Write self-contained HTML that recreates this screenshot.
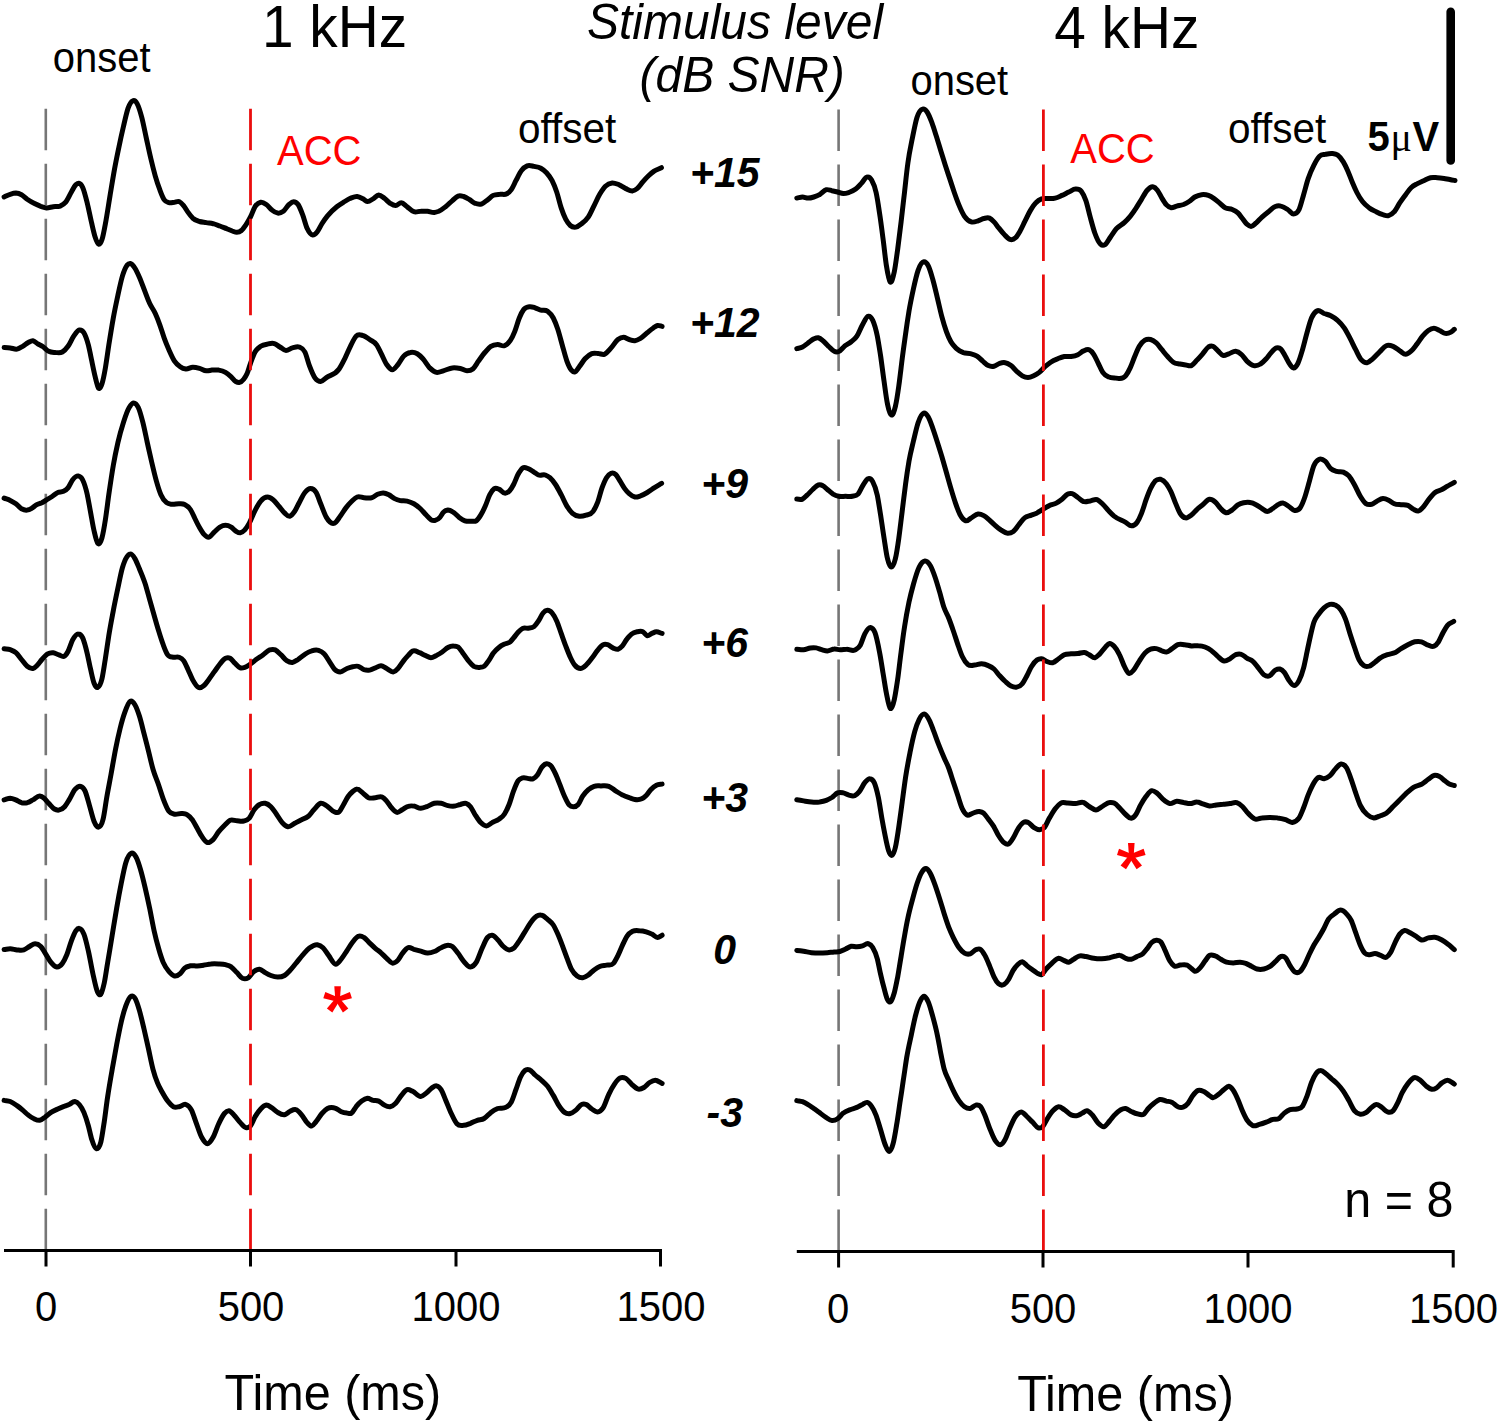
<!DOCTYPE html>
<html><head><meta charset="utf-8"><style>
html,body{margin:0;padding:0;background:#fff;width:1500px;height:1424px;overflow:hidden}
svg{display:block}
text{font-family:"Liberation Sans",sans-serif;fill:#000}
.w{fill:none;stroke:#000;stroke-width:5.0;stroke-linejoin:round;stroke-linecap:round}
.g line{stroke:#767676;stroke-width:2.6;stroke-dasharray:41.5 13.5}
.r line{stroke:#ea0e0e;stroke-width:2.8;stroke-dasharray:41.5 13.5}
.ax{stroke:#000;stroke-width:3;fill:none}
</style></head><body>
<svg width="1500" height="1424" viewBox="0 0 1500 1424">
<g class="g"><line x1="45.8" y1="108.8" x2="45.8" y2="1250"/><line x1="838.6" y1="109.5" x2="838.6" y2="1251"/></g>
<path class="w" d="M4.1,197.0 C6.1,196.1 8.2,194.9 10.2,194.3 C12.1,193.7 14.0,193.1 15.9,193.1 C17.8,193.2 19.6,193.7 21.5,194.7 C23.4,195.7 25.3,197.9 27.2,199.3 C29.5,200.9 31.7,202.2 34.0,203.3 C36.3,204.5 38.5,205.5 40.8,206.3 C42.7,206.9 44.6,207.7 46.5,207.9 C48.7,208.0 51.0,207.0 53.3,206.7 C55.5,206.4 57.8,207.0 60.1,206.1 C62.0,205.3 63.8,204.5 65.7,202.2 C67.6,199.9 69.5,195.2 71.4,192.0 C72.9,189.4 74.4,186.1 75.9,184.7 C77.1,183.7 78.2,182.9 79.3,183.4 C80.5,183.8 81.6,185.0 82.7,187.5 C84.2,190.8 85.8,197.3 87.3,203.3 C88.8,209.4 90.3,217.4 91.8,223.7 C92.9,228.5 94.1,233.9 95.2,237.3 C96.3,240.7 97.5,243.8 98.6,244.1 C99.7,244.5 100.9,243.0 102.0,239.6 C103.1,236.2 104.3,229.7 105.4,223.7 C106.9,215.8 108.4,205.6 109.9,196.5 C111.4,187.5 113.0,177.6 114.5,169.3 C116.0,161.0 117.5,153.8 119.0,146.7 C120.5,139.5 122.0,132.7 123.5,126.3 C125.0,119.8 126.6,112.4 128.1,108.1 C129.6,103.9 131.1,101.6 132.6,100.9 C134.1,100.1 135.6,100.9 137.1,103.6 C138.6,106.3 140.2,111.5 141.7,117.2 C143.2,122.9 144.7,130.8 146.2,137.6 C147.7,144.4 149.2,151.6 150.7,158.0 C152.2,164.4 153.8,170.8 155.3,176.1 C156.8,181.4 158.3,185.8 159.8,189.7 C161.3,193.7 162.8,197.8 164.3,199.9 C165.8,202.1 167.4,202.2 168.9,202.7 C170.8,203.2 172.6,202.4 174.5,202.2 C176.0,202.0 177.6,201.0 179.1,201.5 C180.6,202.1 182.1,203.8 183.6,205.6 C185.1,207.4 186.6,210.3 188.1,212.4 C189.6,214.5 191.2,216.6 192.7,218.1 C194.9,220.2 197.2,220.7 199.5,221.5 C201.7,222.2 204.0,222.2 206.3,222.6 C208.5,223.0 210.8,223.2 213.1,223.7 C215.3,224.3 217.6,225.2 219.9,226.0 C222.1,226.8 224.4,227.8 226.7,228.7 C228.6,229.5 230.4,230.3 232.3,231.0 C233.8,231.5 235.4,232.4 236.9,232.3 C238.4,232.3 239.9,231.8 241.4,230.5 C242.9,229.3 244.4,227.1 245.9,224.9 C247.4,222.6 249.0,220.0 250.5,216.9 C252.0,213.9 253.5,209.2 255.0,206.7 C256.9,203.7 258.8,202.6 260.7,202.2 C262.6,201.8 264.4,203.1 266.3,204.5 C268.2,205.8 270.1,208.7 272.0,210.1 C273.9,211.6 275.8,212.9 277.7,213.1 C279.6,213.3 281.4,212.7 283.3,211.3 C285.2,209.8 287.1,206.1 289.0,204.5 C290.5,203.2 292.0,201.7 293.5,201.7 C295.0,201.7 296.6,202.3 298.1,204.5 C299.6,206.6 301.1,210.7 302.6,214.7 C304.1,218.6 305.6,224.9 307.1,228.3 C309.0,232.4 310.9,234.8 312.8,235.1 C314.3,235.2 315.8,233.6 317.3,231.7 C318.8,229.8 320.4,226.1 321.9,223.7 C323.8,220.7 325.6,218.1 327.5,215.8 C330.6,212.0 333.7,209.2 336.8,206.7 C339.1,204.9 341.3,203.6 343.6,202.2 C345.9,200.8 348.1,199.3 350.4,198.3 C352.7,197.4 354.9,196.3 357.2,196.5 C359.1,196.7 361.0,197.8 362.9,198.8 C364.4,199.6 365.9,201.3 367.4,201.5 C369.3,201.7 371.2,199.9 373.1,198.8 C375.0,197.7 376.8,195.0 378.7,194.9 C380.6,194.9 382.5,196.9 384.4,198.3 C386.3,199.7 388.2,202.1 390.1,203.3 C392.0,204.5 393.8,205.7 395.7,205.6 C397.6,205.5 399.5,202.5 401.4,202.7 C403.3,202.8 405.2,205.4 407.1,206.7 C409.3,208.4 411.6,211.0 413.9,211.7 C416.1,212.5 418.4,211.3 420.7,211.3 C422.9,211.2 425.2,211.1 427.5,211.3 C429.7,211.5 432.0,212.6 434.3,212.4 C435.8,212.3 437.3,211.9 438.8,211.3 C441.1,210.3 443.3,208.5 445.6,206.7 C447.9,205.0 450.1,202.5 452.4,200.6 C454.3,199.0 456.2,196.8 458.1,196.1 C460.0,195.4 461.8,196.0 463.7,196.5 C465.6,197.1 467.5,198.3 469.4,199.5 C471.3,200.6 473.2,202.6 475.1,203.3 C477.3,204.2 479.6,204.6 481.9,203.8 C483.8,203.1 485.6,201.3 487.5,199.9 C489.4,198.5 491.3,196.4 493.2,195.4 C495.5,194.2 497.7,194.5 500.0,194.3 C502.3,194.0 504.5,195.1 506.8,193.8 C508.3,193.0 509.8,191.9 511.3,189.7 C512.8,187.5 514.4,183.6 515.9,180.7 C517.8,177.1 519.6,172.9 521.5,170.5 C523.4,168.0 525.3,166.7 527.2,165.9 C529.5,165.0 531.7,166.0 534.0,166.4 C536.3,166.8 538.5,166.9 540.8,168.2 C542.7,169.3 544.6,170.7 546.5,172.7 C548.4,174.8 550.2,176.9 552.1,180.7 C553.6,183.7 555.2,187.5 556.7,192.0 C558.2,196.5 559.7,203.3 561.2,207.9 C562.7,212.4 564.2,216.3 565.7,219.2 C567.2,222.1 568.8,224.2 570.3,225.5 C572.2,227.2 574.0,227.4 575.9,227.1 C577.8,226.8 579.7,225.2 581.6,223.7 C583.9,222.0 586.1,220.4 588.4,216.9 C590.3,214.0 592.2,209.4 594.1,205.6 C596.0,201.8 597.8,197.5 599.7,194.3 C601.6,191.1 603.5,188.2 605.4,186.3 C607.7,184.1 609.9,183.2 612.2,182.9 C614.5,182.7 616.7,183.8 619.0,184.7 C621.3,185.7 623.5,187.6 625.8,188.6 C628.1,189.6 630.3,191.2 632.6,190.9 C634.1,190.6 635.6,189.8 637.1,188.6 C639.0,187.1 640.9,184.0 642.8,181.8 C644.7,179.6 646.6,177.5 648.5,175.7 C650.4,173.9 652.2,172.4 654.1,171.1 C656.5,169.6 659.0,168.9 661.4,167.7"/>
<path class="w" d="M4.1,347.5 C6.1,347.6 8.2,347.7 10.2,347.9 C12.5,348.2 14.7,349.5 17.0,349.1 C18.9,348.7 20.8,347.4 22.7,346.3 C24.6,345.2 26.4,343.5 28.3,342.5 C29.8,341.7 31.4,340.5 32.9,340.7 C34.4,340.9 35.9,342.7 37.4,343.6 C39.3,344.8 41.2,345.5 43.1,346.8 C45.0,348.1 46.8,350.4 48.7,351.3 C51.0,352.5 53.3,352.3 55.5,352.5 C57.8,352.6 60.1,353.3 62.3,352.0 C64.2,350.9 66.1,349.0 68.0,346.3 C69.9,343.7 71.8,338.9 73.7,336.1 C75.6,333.4 77.4,330.3 79.3,330.0 C80.8,329.8 82.4,330.2 83.9,332.7 C85.4,335.3 86.9,339.4 88.4,345.2 C89.5,349.6 90.7,355.8 91.8,361.1 C92.9,366.4 94.1,372.4 95.2,376.9 C96.3,381.5 97.5,387.1 98.6,388.3 C99.7,389.4 100.9,387.1 102.0,383.7 C103.1,380.3 104.3,374.3 105.4,367.9 C106.5,361.4 107.7,352.4 108.8,345.2 C110.3,335.6 111.8,326.3 113.3,318.0 C114.8,309.7 116.4,302.3 117.9,295.3 C119.4,288.3 120.9,281.1 122.4,276.1 C123.9,271.1 125.4,267.4 126.9,265.4 C128.1,263.9 129.2,263.5 130.3,263.6 C131.8,263.8 133.4,265.9 134.9,268.1 C136.4,270.4 137.9,273.8 139.4,277.2 C141.3,281.5 143.2,287.1 145.1,291.9 C146.6,295.8 148.1,300.0 149.6,303.3 C151.5,307.4 153.4,309.3 155.3,313.5 C156.8,316.8 158.3,320.6 159.8,324.8 C161.3,329.0 162.8,334.2 164.3,338.4 C165.8,342.6 167.4,346.3 168.9,349.7 C170.8,354.0 172.6,358.2 174.5,361.1 C176.4,363.9 178.3,365.4 180.2,366.7 C182.1,368.1 184.0,368.8 185.9,369.0 C188.1,369.2 190.4,367.3 192.7,367.2 C194.9,367.1 197.2,367.7 199.5,368.3 C201.7,368.9 204.0,370.6 206.3,370.8 C208.2,371.0 210.0,370.3 211.9,370.1 C214.2,370.0 216.5,369.8 218.7,370.1 C221.0,370.5 223.3,371.1 225.5,372.4 C227.4,373.5 229.3,375.2 231.2,376.9 C232.7,378.3 234.2,380.5 235.7,381.5 C236.9,382.2 238.0,382.7 239.1,382.6 C240.6,382.4 242.2,381.1 243.7,379.2 C244.8,377.8 245.9,376.2 247.1,373.5 C248.2,370.9 249.3,366.5 250.5,363.3 C252.0,359.1 253.5,354.8 255.0,352.0 C256.9,348.5 258.8,347.6 260.7,346.3 C262.9,344.8 265.2,344.5 267.5,344.1 C269.7,343.6 272.0,342.9 274.3,343.6 C276.2,344.2 278.0,345.9 279.9,347.0 C281.8,348.1 283.7,350.1 285.6,350.4 C287.9,350.8 290.1,348.5 292.4,347.9 C294.7,347.4 296.9,346.1 299.2,347.0 C301.1,347.8 303.0,348.1 304.9,352.0 C306.4,355.1 307.9,361.6 309.4,365.6 C311.3,370.6 313.2,375.4 315.1,378.1 C317.0,380.7 318.8,381.5 320.7,381.5 C322.6,381.4 324.5,378.9 326.4,377.6 C330.6,374.7 334.8,375.1 339.1,369.0 C341.0,366.3 342.8,362.6 344.7,358.8 C346.6,355.0 348.5,350.1 350.4,346.3 C352.3,342.6 354.2,338.1 356.1,336.1 C358.3,333.8 360.6,334.9 362.9,335.5 C365.1,336.0 367.4,338.0 369.7,339.5 C371.9,341.1 374.2,341.5 376.5,344.7 C378.0,346.9 379.5,350.2 381.0,353.1 C382.9,356.8 384.8,361.7 386.7,364.5 C388.6,367.2 390.4,369.7 392.3,369.7 C394.2,369.7 396.1,366.7 398.0,364.5 C399.9,362.2 401.8,358.1 403.7,356.1 C405.9,353.7 408.2,352.8 410.5,352.5 C412.7,352.1 415.0,352.5 417.3,353.8 C419.2,354.9 421.0,356.7 422.9,358.8 C425.2,361.3 427.5,365.6 429.7,367.9 C432.0,370.1 434.3,371.9 436.5,372.4 C438.8,372.9 441.1,371.4 443.3,370.8 C446.4,370.0 449.4,368.2 452.4,367.9 C455.0,367.6 457.7,368.0 460.3,368.5 C462.6,369.0 464.9,370.9 467.1,370.8 C469.0,370.8 470.9,370.6 472.8,369.0 C474.7,367.4 476.6,363.7 478.5,361.1 C480.7,358.0 483.0,354.6 485.3,352.0 C487.2,349.8 489.0,347.6 490.9,346.3 C493.2,344.8 495.5,344.6 497.7,344.5 C500.0,344.4 502.3,346.6 504.5,345.7 C506.4,344.9 508.3,343.5 510.2,340.7 C511.7,338.4 513.2,335.4 514.7,331.6 C516.2,327.8 517.8,321.7 519.3,318.0 C520.8,314.3 522.3,311.3 523.8,309.4 C525.7,307.0 527.6,306.9 529.5,306.7 C531.4,306.4 533.2,307.2 535.1,307.8 C537.0,308.4 538.9,309.5 540.8,310.1 C543.1,310.7 545.3,309.5 547.6,311.2 C549.5,312.6 551.4,314.4 553.3,318.0 C554.8,320.9 556.3,324.8 557.8,329.3 C559.3,333.9 560.8,339.9 562.3,345.2 C563.8,350.5 565.4,356.9 566.9,361.1 C568.4,365.2 569.9,368.4 571.4,370.1 C572.5,371.4 573.7,372.2 574.8,371.9 C576.3,371.7 577.8,368.6 579.3,366.7 C581.2,364.4 583.1,360.9 585.0,358.8 C587.3,356.3 589.5,354.5 591.8,353.6 C594.1,352.7 596.3,353.4 598.6,353.6 C600.5,353.7 602.4,354.9 604.3,354.3 C606.5,353.5 608.8,350.4 611.1,347.9 C613.3,345.5 615.6,341.3 617.9,339.5 C619.8,338.1 621.6,337.3 623.5,337.3 C625.4,337.3 627.3,339.0 629.2,339.5 C631.1,340.1 633.0,340.9 634.9,340.7 C636.8,340.5 638.6,339.5 640.5,338.4 C642.8,337.0 645.1,334.6 647.3,332.7 C649.2,331.2 651.1,329.5 653.0,328.2 C654.5,327.2 656.0,325.8 657.5,325.5 C659.0,325.2 660.6,326.1 662.1,326.4"/>
<path class="w" d="M4.1,498.1 C6.1,498.9 8.2,499.4 10.2,500.4 C12.1,501.3 14.0,502.4 15.9,503.8 C17.8,505.2 19.6,507.7 21.5,508.8 C23.4,509.8 25.3,510.4 27.2,510.1 C28.7,510.0 30.2,509.2 31.7,508.3 C33.2,507.5 34.8,505.8 36.3,504.9 C38.2,503.8 40.0,503.6 41.9,502.7 C43.4,501.9 45.0,500.9 46.5,499.9 C48.4,498.8 50.2,497.8 52.1,496.5 C54.0,495.3 55.9,493.3 57.8,492.5 C59.7,491.6 61.6,492.3 63.5,491.3 C65.0,490.6 66.5,489.8 68.0,487.9 C69.5,486.0 71.0,482.0 72.5,480.0 C74.4,477.6 76.3,475.6 78.2,475.9 C79.7,476.2 81.2,476.9 82.7,480.0 C84.2,483.1 85.8,488.0 87.3,494.7 C88.4,499.8 89.5,506.8 90.7,512.9 C91.8,518.9 92.9,526.1 94.1,531.0 C95.4,536.6 96.6,542.2 97.9,543.5 C99.3,544.8 100.6,542.6 102.0,537.8 C103.1,533.8 104.3,526.8 105.4,519.7 C106.5,512.5 107.7,502.6 108.8,494.7 C110.3,484.2 111.8,474.0 113.3,465.3 C114.8,456.6 116.4,449.2 117.9,442.6 C119.8,434.3 121.6,428.1 123.5,422.2 C125.4,416.3 127.3,410.7 129.2,407.5 C130.7,404.9 132.2,402.9 133.7,402.9 C135.2,402.9 136.8,404.3 138.3,407.5 C139.8,410.7 141.3,416.3 142.8,422.2 C144.3,428.1 145.8,435.8 147.3,442.6 C148.8,449.4 150.4,456.6 151.9,463.0 C153.4,469.4 154.9,475.8 156.4,481.1 C157.9,486.4 159.4,491.3 160.9,494.7 C162.8,499.1 164.7,501.1 166.6,502.7 C168.5,504.3 170.4,504.0 172.3,504.3 C174.5,504.5 176.8,503.7 179.1,503.8 C181.0,503.9 182.8,503.5 184.7,504.5 C186.6,505.4 188.5,506.6 190.4,509.5 C191.9,511.7 193.4,515.5 194.9,518.5 C196.4,521.6 198.0,525.0 199.5,527.6 C201.0,530.2 202.5,532.8 204.0,534.4 C205.5,536.0 207.0,537.4 208.5,537.3 C210.4,537.3 212.3,533.8 214.2,532.1 C216.1,530.4 218.0,528.3 219.9,527.1 C221.8,526.0 223.6,525.3 225.5,525.3 C227.4,525.3 229.3,526.0 231.2,527.1 C232.7,528.1 234.2,530.1 235.7,531.0 C237.2,531.9 238.8,533.0 240.3,532.8 C241.8,532.6 243.3,531.5 244.8,529.9 C246.3,528.2 247.8,525.8 249.3,523.1 C251.2,519.6 253.1,514.3 255.0,510.6 C256.9,506.9 258.8,503.3 260.7,501.1 C262.9,498.4 265.2,497.0 267.5,497.0 C269.4,497.0 271.2,498.2 273.1,499.7 C275.0,501.2 276.9,503.9 278.8,506.1 C280.7,508.3 282.6,511.1 284.5,512.9 C286.2,514.5 287.9,516.6 289.7,516.3 C291.3,515.9 293.0,513.7 294.7,511.3 C296.2,509.1 297.7,505.5 299.2,502.7 C301.1,499.2 303.0,494.8 304.9,492.5 C306.8,490.1 308.6,488.4 310.5,488.4 C312.4,488.4 314.3,489.2 316.2,492.5 C317.7,495.0 319.2,500.1 320.7,503.8 C322.6,508.4 324.5,514.2 326.4,517.4 C329.1,522.0 331.8,524.2 334.5,523.1 C336.4,522.3 338.3,518.8 340.2,516.3 C342.1,513.7 344.0,510.3 345.9,507.9 C347.8,505.4 349.6,503.3 351.5,501.5 C353.4,499.7 355.3,497.7 357.2,497.0 C359.5,496.1 361.7,497.6 364.0,497.7 C366.6,497.8 369.3,498.6 371.9,497.7 C373.8,497.0 375.7,495.1 377.6,494.3 C379.5,493.5 381.4,492.8 383.3,492.9 C385.2,493.0 387.0,493.8 388.9,494.7 C390.8,495.7 392.7,497.6 394.6,498.6 C396.5,499.6 398.4,500.2 400.3,500.6 C402.5,501.1 404.8,500.6 407.1,501.1 C409.3,501.6 411.6,502.5 413.9,503.8 C416.1,505.1 418.4,506.9 420.7,509.0 C422.6,510.8 424.4,513.2 426.3,515.1 C427.8,516.7 429.4,518.8 430.9,519.7 C432.4,520.5 433.9,520.7 435.4,520.3 C436.9,520.0 438.4,519.1 439.9,517.4 C441.1,516.1 442.2,513.6 443.3,512.4 C444.8,510.8 446.4,510.3 447.9,510.1 C449.8,510.0 451.6,511.2 453.5,512.4 C455.4,513.6 457.3,516.0 459.2,517.4 C461.1,518.8 463.0,520.1 464.9,520.8 C467.1,521.6 469.4,521.3 471.7,521.3 C473.2,521.2 474.7,521.8 476.2,520.8 C477.7,519.8 479.2,517.6 480.7,515.1 C482.2,512.7 483.8,509.5 485.3,506.1 C486.8,502.7 488.3,497.6 489.8,494.7 C491.3,491.8 492.8,489.6 494.3,488.6 C495.8,487.7 497.4,488.5 498.9,489.1 C500.8,489.8 502.6,493.0 504.5,493.1 C506.0,493.3 507.6,492.8 509.1,491.3 C510.6,489.9 512.1,487.4 513.6,484.5 C515.1,481.7 516.6,477.1 518.1,474.3 C519.6,471.6 521.2,469.1 522.7,468.0 C524.6,466.6 526.4,468.0 528.3,468.7 C530.2,469.3 532.1,470.9 534.0,472.1 C535.5,473.0 537.0,474.4 538.5,475.0 C540.8,475.9 543.1,474.2 545.3,475.0 C546.8,475.6 548.4,476.4 549.9,477.7 C551.8,479.4 553.6,481.7 555.5,484.5 C557.4,487.4 559.3,491.1 561.2,494.7 C563.1,498.3 565.0,503.0 566.9,506.1 C568.8,509.2 570.6,511.6 572.5,513.3 C574.8,515.3 577.1,516.0 579.3,516.3 C581.6,516.6 583.9,515.9 586.1,515.1 C588.4,514.4 590.7,514.9 592.9,511.7 C594.4,509.6 596.0,506.6 597.5,502.7 C599.0,498.7 600.5,492.1 602.0,487.9 C603.5,483.8 605.0,480.2 606.5,477.7 C608.0,475.3 609.6,473.8 611.1,473.2 C612.6,472.6 614.1,473.0 615.6,474.3 C617.1,475.7 618.6,478.8 620.1,481.1 C621.6,483.5 623.2,486.5 624.7,488.6 C626.2,490.7 627.7,492.3 629.2,493.6 C631.1,495.3 633.0,496.6 634.9,497.0 C636.8,497.4 638.6,496.5 640.5,495.9 C642.8,495.1 645.1,493.8 647.3,492.5 C649.6,491.1 651.9,489.4 654.1,487.9 C656.6,486.3 659.1,484.9 661.6,483.4"/>
<path class="w" d="M4.1,648.8 C6.1,649.1 8.2,649.0 10.2,649.7 C12.1,650.4 14.0,651.0 15.9,652.7 C17.8,654.3 19.6,657.2 21.5,659.5 C23.4,661.7 25.3,664.8 27.2,666.3 C29.1,667.8 31.0,669.0 32.9,668.5 C34.4,668.2 35.9,666.6 37.4,665.1 C38.9,663.6 40.4,661.2 41.9,659.5 C43.8,657.3 45.7,654.9 47.6,653.8 C49.5,652.7 51.4,652.5 53.3,652.7 C55.2,652.9 57.0,654.4 58.9,654.9 C60.8,655.5 62.7,657.5 64.6,656.1 C65.7,655.2 66.9,653.6 68.0,651.5 C69.5,648.8 71.0,643.1 72.5,640.2 C74.4,636.6 76.3,633.8 78.2,633.9 C79.7,633.9 81.2,634.6 82.7,637.9 C84.2,641.3 85.8,647.5 87.3,653.8 C88.4,658.5 89.5,664.8 90.7,669.7 C91.8,674.6 92.9,680.3 94.1,683.3 C95.4,686.6 96.6,688.0 97.9,687.3 C99.3,686.7 100.6,684.5 102.0,678.7 C103.1,673.9 104.3,665.5 105.4,658.3 C106.5,651.2 107.7,642.7 108.8,635.7 C110.3,626.3 111.8,618.7 113.3,610.7 C114.8,602.8 116.4,595.2 117.9,588.1 C119.4,580.9 120.9,572.9 122.4,567.7 C123.9,562.5 125.4,559.0 126.9,556.8 C128.1,555.1 129.2,554.1 130.3,554.1 C131.8,554.0 133.4,556.1 134.9,558.6 C136.4,561.1 137.9,565.2 139.4,568.8 C141.3,573.3 143.2,577.7 145.1,583.5 C146.6,588.2 148.1,594.1 149.6,599.4 C151.1,604.7 152.6,610.0 154.1,615.3 C155.6,620.6 157.2,626.2 158.7,631.1 C160.2,636.0 161.7,640.8 163.2,644.7 C164.7,648.7 166.2,652.8 167.7,654.9 C169.6,657.6 171.5,656.8 173.4,657.2 C175.3,657.6 177.2,656.4 179.1,657.2 C180.6,657.8 182.1,658.5 183.6,660.6 C185.1,662.7 186.6,666.5 188.1,669.7 C189.6,672.9 191.2,677.1 192.7,679.9 C194.6,683.3 196.4,686.4 198.3,687.3 C200.2,688.3 202.1,687.1 204.0,685.5 C205.5,684.3 207.0,681.9 208.5,679.9 C210.4,677.4 212.3,674.6 214.2,671.9 C216.1,669.3 218.0,666.3 219.9,664.0 C221.8,661.7 223.6,659.2 225.5,658.3 C227.0,657.7 228.6,657.6 230.1,658.3 C231.6,659.1 233.1,661.4 234.6,662.9 C236.5,664.7 238.4,667.2 240.3,667.9 C241.8,668.4 243.3,667.9 244.8,667.4 C246.7,666.8 248.6,665.3 250.5,664.0 C252.4,662.7 254.2,660.9 256.1,659.5 C258.4,657.8 260.7,656.5 262.9,654.9 C265.2,653.3 267.5,650.7 269.7,649.9 C271.6,649.3 273.5,649.1 275.4,649.9 C277.3,650.8 279.2,653.2 281.1,654.9 C283.0,656.7 284.8,659.4 286.7,660.6 C288.6,661.8 290.5,662.6 292.4,662.4 C294.3,662.2 296.2,660.7 298.1,659.5 C300.3,658.0 302.6,655.7 304.9,654.3 C307.1,652.8 309.4,651.5 311.7,650.9 C313.9,650.2 316.2,649.7 318.5,650.4 C320.4,651.0 322.2,651.8 324.1,653.8 C326.1,655.8 328.0,659.4 329.9,662.3 C331.4,664.6 333.0,667.6 334.5,669.2 C336.4,671.2 338.3,671.9 340.2,671.9 C342.5,672.0 344.7,669.4 347.0,668.5 C348.9,667.8 350.8,667.1 352.7,666.7 C354.6,666.3 356.4,665.8 358.3,666.3 C360.2,666.8 362.1,669.0 364.0,669.7 C365.9,670.3 367.8,670.4 369.7,670.1 C371.6,669.8 373.4,668.6 375.3,667.9 C377.2,667.1 379.1,665.7 381.0,665.8 C382.9,665.9 384.8,667.6 386.7,668.5 C388.9,669.6 391.2,672.5 393.5,671.9 C395.0,671.6 396.5,670.1 398.0,668.5 C399.9,666.6 401.8,663.0 403.7,660.6 C405.2,658.7 406.7,657.0 408.2,655.4 C409.7,653.8 411.2,651.8 412.7,651.1 C415.0,650.0 417.3,651.8 419.5,652.7 C421.4,653.4 423.3,654.6 425.2,655.4 C427.1,656.2 429.0,657.7 430.9,657.7 C432.8,657.7 434.6,656.3 436.5,655.4 C438.4,654.4 440.3,653.3 442.2,652.0 C444.1,650.7 446.0,648.5 447.9,647.5 C449.8,646.4 451.6,645.8 453.5,645.9 C455.0,645.9 456.6,645.9 458.1,647.0 C459.6,648.1 461.1,650.7 462.6,652.7 C464.5,655.2 466.4,658.3 468.3,660.6 C470.2,662.9 472.0,665.1 473.9,666.3 C475.8,667.4 477.7,667.5 479.6,667.4 C481.1,667.3 482.6,667.4 484.1,666.3 C485.6,665.1 487.2,662.8 488.7,660.6 C490.2,658.4 491.7,655.4 493.2,653.3 C495.1,650.8 497.0,649.0 498.9,647.5 C500.8,645.9 502.6,645.0 504.5,644.1 C506.4,643.1 508.3,643.4 510.2,641.8 C511.3,640.8 512.5,639.3 513.6,637.9 C515.1,636.1 516.6,633.9 518.1,632.3 C519.6,630.7 521.2,629.2 522.7,628.4 C524.6,627.5 526.4,628.5 528.3,628.2 C530.2,627.9 532.1,628.1 534.0,626.6 C535.5,625.4 537.0,623.2 538.5,620.9 C540.0,618.7 541.6,614.8 543.1,613.0 C544.4,611.4 545.8,610.4 547.1,610.3 C548.8,610.1 550.5,611.0 552.1,613.0 C553.6,614.8 555.2,617.5 556.7,620.9 C558.2,624.3 559.7,629.2 561.2,633.4 C562.7,637.6 564.2,641.9 565.7,645.9 C567.2,649.8 568.8,654.0 570.3,657.2 C571.8,660.4 573.3,663.3 574.8,665.1 C576.7,667.5 578.6,668.5 580.5,668.5 C582.4,668.5 584.2,666.8 586.1,665.1 C588.0,663.4 589.9,660.8 591.8,658.3 C593.7,655.9 595.6,652.7 597.5,650.4 C599.4,648.1 601.2,645.6 603.1,644.7 C604.6,644.1 606.2,644.3 607.7,644.7 C609.6,645.2 611.4,647.4 613.3,648.1 C614.8,648.7 616.4,649.6 617.9,649.3 C619.4,648.9 620.9,647.6 622.4,645.9 C623.9,644.2 625.4,641.0 626.9,639.1 C628.4,637.1 630.0,635.3 631.5,634.1 C633.4,632.6 635.2,632.2 637.1,631.8 C639.0,631.4 640.9,630.9 642.8,631.8 C644.3,632.5 645.8,635.4 647.3,635.7 C648.8,635.9 650.4,634.0 651.9,633.4 C653.4,632.8 654.9,631.9 656.4,631.8 C658.3,631.7 660.2,632.9 662.1,633.4"/>
<path class="w" d="M4.1,799.9 C6.1,799.4 8.2,798.3 10.2,798.3 C12.1,798.4 14.0,799.2 15.9,799.9 C17.8,800.7 19.6,802.2 21.5,802.7 C23.4,803.1 25.3,803.1 27.2,802.7 C29.1,802.2 31.0,800.9 32.9,799.9 C35.1,798.8 37.4,795.9 39.7,796.1 C41.2,796.2 42.7,797.1 44.2,798.3 C45.7,799.6 47.2,801.7 48.7,803.3 C50.6,805.3 52.5,807.9 54.4,809.0 C55.9,809.9 57.4,810.3 58.9,810.1 C60.8,809.9 62.7,808.8 64.6,806.7 C66.1,805.1 67.6,802.4 69.1,799.9 C71.0,796.8 72.9,792.0 74.8,789.7 C76.7,787.5 78.6,785.8 80.5,786.3 C82.0,786.8 83.5,787.7 85.0,790.9 C86.5,794.1 88.0,800.5 89.5,805.6 C91.0,810.7 92.6,817.9 94.1,821.5 C95.6,825.1 97.1,827.5 98.6,827.1 C100.1,826.8 101.6,825.5 103.1,819.2 C104.3,814.5 105.4,805.4 106.5,798.8 C108.0,790.1 109.6,782.2 111.1,773.9 C112.6,765.6 114.1,756.5 115.6,748.9 C117.1,741.4 118.6,734.6 120.1,728.5 C121.6,722.5 123.2,716.9 124.7,712.7 C126.6,707.3 128.4,702.2 130.3,701.3 C131.8,700.6 133.4,702.3 134.9,704.7 C136.4,707.2 137.9,711.3 139.4,716.1 C140.9,720.8 142.4,727.2 143.9,733.1 C145.4,738.9 147.0,745.2 148.5,751.2 C150.0,757.2 151.5,764.1 153.0,769.3 C154.9,775.9 156.8,779.7 158.7,785.2 C160.2,789.6 161.7,794.8 163.2,798.8 C165.1,803.8 167.0,808.7 168.9,811.3 C170.8,813.8 172.6,813.8 174.5,814.2 C176.8,814.8 179.1,813.4 181.3,813.5 C183.2,813.7 185.1,813.5 187.0,814.7 C188.9,815.8 190.8,817.7 192.7,820.3 C194.2,822.5 195.7,825.6 197.2,828.3 C198.7,830.9 200.2,834.0 201.7,836.2 C203.6,839.0 205.5,842.0 207.4,842.5 C209.3,843.1 211.2,841.4 213.1,839.6 C215.0,837.8 216.8,834.0 218.7,831.7 C220.6,829.3 222.5,827.4 224.4,825.5 C226.3,823.7 228.2,821.2 230.1,820.3 C232.3,819.3 234.6,820.7 236.9,820.8 C239.1,820.9 241.4,821.6 243.7,821.0 C245.6,820.5 247.4,820.3 249.3,818.1 C250.8,816.2 252.4,812.3 253.9,810.1 C255.8,807.5 257.6,805.6 259.5,804.5 C261.4,803.3 263.3,803.0 265.2,803.3 C267.1,803.7 269.0,804.9 270.9,806.7 C272.8,808.5 274.6,811.6 276.5,814.2 C278.4,816.9 280.3,820.5 282.2,822.6 C284.1,824.7 286.0,826.4 287.9,826.7 C290.1,827.1 292.4,824.5 294.7,823.3 C296.9,822.1 299.2,820.8 301.5,819.7 C303.7,818.5 306.0,818.2 308.3,816.3 C310.2,814.6 312.0,811.7 313.9,809.7 C316.2,807.3 318.5,803.8 320.7,803.3 C322.6,802.9 324.5,804.5 326.4,805.6 C329.1,807.1 331.8,811.2 334.5,811.9 C336.0,812.4 337.6,813.2 339.1,811.9 C340.6,810.7 342.1,807.0 343.6,804.5 C345.1,801.9 346.6,798.7 348.1,796.5 C349.6,794.4 351.2,792.8 352.7,791.5 C354.2,790.3 355.7,789.0 357.2,789.1 C359.1,789.1 361.0,791.7 362.9,793.1 C364.8,794.6 366.6,796.8 368.5,797.7 C370.8,798.7 373.1,797.8 375.3,797.7 C377.6,797.6 379.9,795.9 382.1,797.0 C383.6,797.7 385.2,799.3 386.7,801.1 C388.2,802.8 389.7,805.6 391.2,807.4 C393.1,809.6 395.0,812.1 396.9,812.4 C398.8,812.7 400.6,810.5 402.5,809.5 C404.4,808.4 406.3,806.8 408.2,806.3 C410.1,805.7 412.0,805.8 413.9,806.1 C416.1,806.3 418.4,808.3 420.7,808.3 C422.9,808.4 425.2,807.1 427.5,806.3 C429.7,805.4 432.0,803.8 434.3,803.3 C436.5,802.8 438.8,803.0 441.1,803.3 C443.3,803.7 445.6,805.1 447.9,805.6 C450.1,806.1 452.4,806.3 454.7,806.1 C456.6,805.8 458.4,804.9 460.3,804.5 C462.2,804.0 464.1,802.7 466.0,803.3 C467.5,803.8 469.0,804.8 470.5,806.7 C472.0,808.6 473.6,812.3 475.1,814.7 C477.0,817.7 478.8,820.7 480.7,822.6 C482.6,824.5 484.5,826.0 486.4,826.0 C488.3,826.0 490.2,823.6 492.1,822.6 C494.3,821.3 496.6,820.9 498.9,819.2 C500.8,817.8 502.6,817.0 504.5,814.0 C506.0,811.6 507.6,808.3 509.1,804.5 C510.6,800.6 512.1,794.8 513.6,790.9 C515.1,786.9 516.6,782.8 518.1,780.7 C519.6,778.5 521.2,778.4 522.7,777.9 C524.6,777.4 526.4,778.2 528.3,778.4 C529.8,778.5 531.4,779.4 532.9,778.9 C534.4,778.3 535.9,777.0 537.4,775.0 C538.9,773.0 540.4,769.0 541.9,767.1 C543.4,765.2 545.0,763.9 546.5,763.7 C548.0,763.5 549.5,764.2 551.0,765.9 C552.5,767.6 554.0,770.7 555.5,773.9 C557.0,777.1 558.6,781.4 560.1,785.2 C561.6,789.0 563.1,793.2 564.6,796.5 C566.1,799.8 567.6,803.2 569.1,804.9 C570.6,806.6 572.2,806.8 573.7,806.7 C575.2,806.7 576.7,806.2 578.2,804.5 C579.7,802.7 581.2,798.4 582.7,796.1 C584.6,793.2 586.5,791.4 588.4,789.7 C590.3,788.1 592.2,787.0 594.1,786.3 C596.3,785.5 598.6,785.9 600.9,785.9 C603.5,785.9 606.2,785.3 608.8,786.3 C611.1,787.2 613.3,789.4 615.6,790.9 C617.9,792.3 620.1,793.8 622.4,794.9 C624.7,796.1 626.9,796.9 629.2,797.7 C631.1,798.3 633.0,799.2 634.9,799.5 C637.1,799.8 639.4,799.9 641.7,798.8 C643.2,798.1 644.7,796.9 646.2,795.4 C647.7,793.9 649.2,791.3 650.7,789.7 C652.6,787.7 654.5,786.1 656.4,785.2 C658.3,784.3 660.2,784.4 662.1,784.1"/>
<path class="w" d="M4.1,949.5 C6.1,949.3 8.2,948.8 10.2,948.8 C12.5,948.8 14.7,949.7 17.0,949.9 C19.3,950.1 21.5,950.7 23.8,949.9 C25.7,949.3 27.6,947.6 29.5,946.5 C31.4,945.5 33.2,943.8 35.1,943.8 C37.0,943.8 38.9,944.6 40.8,946.5 C42.3,948.1 43.8,951.0 45.3,953.3 C47.2,956.2 49.1,960.1 51.0,962.4 C52.9,964.7 54.8,966.7 56.7,966.9 C58.6,967.1 60.4,966.1 62.3,963.5 C63.8,961.5 65.4,958.2 66.9,954.5 C68.4,950.7 69.9,944.8 71.4,940.9 C72.9,936.9 74.4,932.7 75.9,930.7 C77.1,929.1 78.2,928.2 79.3,928.4 C80.8,928.6 82.4,930.3 83.9,934.1 C85.4,937.8 86.9,944.5 88.4,951.1 C89.9,957.7 91.4,966.9 92.9,973.7 C94.4,980.5 96.0,988.7 97.5,991.9 C98.6,994.2 99.7,995.6 100.9,994.1 C102.0,992.6 103.1,988.1 104.3,982.8 C105.4,977.5 106.5,969.2 107.7,962.4 C109.2,953.3 110.7,944.3 112.2,935.2 C113.7,926.1 115.2,916.7 116.7,908.0 C118.2,899.3 119.8,890.6 121.3,883.1 C122.8,875.5 124.3,867.6 125.8,862.7 C127.7,856.5 129.6,853.7 131.5,853.1 C133.0,852.7 134.5,854.3 136.0,857.0 C137.5,859.7 139.0,864.4 140.5,869.5 C142.0,874.6 143.6,881.2 145.1,887.6 C146.6,894.0 148.1,900.8 149.6,908.0 C151.1,915.2 152.6,923.9 154.1,930.7 C155.6,937.5 157.2,943.5 158.7,948.8 C160.2,954.1 161.7,958.8 163.2,962.4 C165.1,966.9 167.0,969.2 168.9,971.5 C170.8,973.7 172.6,975.6 174.5,976.0 C176.4,976.4 178.3,975.4 180.2,973.7 C181.7,972.4 183.2,969.4 184.7,968.1 C186.6,966.4 188.5,966.2 190.4,965.8 C192.7,965.3 194.9,966.1 197.2,966.0 C199.5,965.9 201.7,965.5 204.0,965.1 C206.3,964.8 208.5,964.2 210.8,964.0 C213.4,963.7 216.1,963.8 218.7,964.0 C221.0,964.1 223.3,964.1 225.5,964.7 C227.4,965.2 229.3,965.6 231.2,966.9 C233.1,968.3 235.0,970.7 236.9,972.6 C238.8,974.5 240.6,977.4 242.5,978.3 C244.4,979.1 246.3,978.9 248.2,977.8 C250.1,976.7 252.0,972.9 253.9,971.5 C255.8,970.0 257.6,969.0 259.5,969.2 C261.4,969.4 263.3,971.5 265.2,972.6 C267.1,973.7 269.0,974.8 270.9,975.5 C273.1,976.4 275.4,977.1 277.7,977.1 C279.9,977.1 282.2,976.9 284.5,975.5 C286.4,974.4 288.2,972.3 290.1,970.3 C292.0,968.3 293.9,965.8 295.8,963.5 C298.1,960.8 300.3,957.7 302.6,955.1 C304.9,952.6 307.1,949.8 309.4,948.1 C312.0,946.1 314.7,944.4 317.3,944.7 C319.2,945.0 321.1,945.9 323.0,947.7 C324.9,949.5 326.8,953.1 328.7,955.6 C331.0,958.7 333.3,964.1 335.7,964.2 C337.6,964.3 339.4,961.3 341.3,959.0 C343.2,956.7 345.1,953.4 347.0,950.6 C348.9,947.8 350.8,944.4 352.7,942.0 C354.6,939.6 356.4,937.1 358.3,936.3 C360.2,935.6 362.1,936.3 364.0,937.5 C365.9,938.6 367.8,941.3 369.7,943.1 C371.6,944.9 373.4,946.7 375.3,948.3 C377.2,950.0 379.1,951.2 381.0,952.9 C382.9,954.5 384.8,956.6 386.7,958.3 C388.6,960.0 390.4,962.8 392.3,963.1 C394.2,963.4 396.1,962.1 398.0,960.1 C399.5,958.5 401.0,955.3 402.5,953.3 C404.4,950.9 406.3,948.3 408.2,947.7 C410.1,947.0 412.0,948.7 413.9,949.3 C416.1,949.9 418.4,950.5 420.7,951.1 C422.9,951.7 425.2,952.8 427.5,952.9 C429.7,953.0 432.0,952.4 434.3,951.5 C436.5,950.7 438.8,948.7 441.1,947.7 C443.0,946.8 444.8,945.6 446.7,945.4 C448.6,945.2 450.5,945.2 452.4,946.5 C454.3,947.9 456.2,950.9 458.1,953.3 C460.0,955.8 461.8,959.1 463.7,961.3 C466.0,963.9 468.3,967.1 470.5,966.9 C472.4,966.8 474.3,965.4 476.2,962.4 C478.1,959.4 480.0,953.0 481.9,948.8 C483.8,944.6 485.6,939.7 487.5,937.5 C489.0,935.7 490.6,935.1 492.1,935.2 C494.0,935.3 495.8,937.8 497.7,939.7 C499.6,941.6 501.5,944.8 503.4,946.5 C505.3,948.2 507.2,949.8 509.1,949.9 C510.6,950.0 512.1,949.5 513.6,948.3 C515.5,946.9 517.4,943.6 519.3,940.9 C521.2,938.1 523.0,934.8 524.9,931.8 C526.8,928.8 528.7,925.3 530.6,922.7 C532.5,920.2 534.4,917.6 536.3,916.4 C538.2,915.1 540.0,914.8 541.9,915.3 C543.8,915.7 545.7,917.7 547.6,919.3 C549.5,921.0 551.4,922.1 553.3,925.0 C554.8,927.3 556.3,930.7 557.8,934.1 C559.3,937.5 560.8,941.4 562.3,945.4 C563.8,949.4 565.4,953.9 566.9,957.9 C568.4,961.8 569.9,966.3 571.4,969.2 C573.3,972.8 575.2,974.6 577.1,976.0 C579.0,977.4 580.8,978.0 582.7,977.8 C584.6,977.6 586.5,976.2 588.4,974.9 C590.3,973.5 592.2,971.3 594.1,969.9 C596.0,968.5 597.8,967.3 599.7,966.5 C602.0,965.5 604.3,965.6 606.5,965.1 C608.8,964.6 611.1,966.1 613.3,963.5 C614.8,961.8 616.4,958.6 617.9,955.6 C619.4,952.6 620.9,948.6 622.4,945.4 C623.9,942.2 625.4,938.6 626.9,936.3 C628.8,933.5 630.7,932.3 632.6,931.3 C634.9,930.2 637.1,930.6 639.4,930.7 C641.7,930.7 643.9,931.1 646.2,931.8 C648.1,932.4 650.0,933.1 651.9,934.1 C653.8,935.0 655.6,937.5 657.5,937.5 C659.0,937.4 660.6,936.0 662.1,935.2"/>
<path class="w" d="M4.1,1100.4 C6.1,1100.8 8.2,1100.7 10.2,1101.5 C12.5,1102.4 14.7,1104.0 17.0,1105.6 C18.9,1106.9 20.8,1108.5 22.7,1110.1 C24.6,1111.7 26.4,1113.7 28.3,1115.1 C30.2,1116.6 32.1,1117.9 34.0,1118.7 C35.9,1119.6 37.8,1120.6 39.7,1120.3 C41.6,1120.0 43.4,1118.3 45.3,1116.9 C47.2,1115.6 49.1,1113.7 51.0,1112.4 C53.3,1110.9 55.5,1110.1 57.8,1109.0 C60.1,1107.9 62.3,1106.9 64.6,1106.1 C66.1,1105.5 67.6,1105.1 69.1,1104.5 C71.0,1103.7 72.9,1101.3 74.8,1101.5 C76.3,1101.7 77.8,1102.7 79.3,1104.5 C80.8,1106.3 82.4,1108.8 83.9,1112.4 C85.4,1116.0 86.9,1120.6 88.4,1126.0 C89.5,1130.0 90.7,1136.0 91.8,1139.6 C93.3,1144.3 94.8,1148.3 96.3,1148.7 C97.8,1149.0 99.4,1148.0 100.9,1141.9 C102.0,1137.3 103.1,1129.0 104.3,1121.5 C105.4,1113.9 106.5,1104.2 107.7,1096.5 C109.2,1086.3 110.7,1078.0 112.2,1069.3 C113.7,1060.6 115.2,1052.3 116.7,1044.4 C118.2,1036.5 119.8,1028.2 121.3,1021.7 C122.8,1015.3 124.3,1010.0 125.8,1005.9 C127.5,1001.1 129.3,997.3 131.0,996.3 C132.5,995.5 134.0,996.2 135.5,999.1 C136.8,1001.5 138.1,1006.0 139.4,1010.4 C140.9,1015.6 142.4,1022.1 143.9,1028.5 C145.4,1035.0 147.0,1042.1 148.5,1048.9 C150.0,1055.7 151.5,1063.7 153.0,1069.3 C154.5,1075.0 156.0,1079.2 157.5,1082.9 C159.0,1086.7 160.6,1089.2 162.1,1092.0 C164.0,1095.4 165.8,1098.6 167.7,1101.1 C169.6,1103.5 171.5,1105.8 173.4,1106.7 C175.3,1107.7 177.2,1107.0 179.1,1106.7 C181.3,1106.4 183.6,1103.6 185.9,1104.5 C187.8,1105.2 189.6,1106.4 191.5,1110.1 C193.0,1113.1 194.6,1118.5 196.1,1122.6 C198.0,1127.7 199.8,1133.8 201.7,1137.3 C203.6,1140.8 205.5,1143.7 207.4,1143.7 C209.3,1143.7 211.2,1140.7 213.1,1137.3 C215.0,1134.0 216.8,1127.7 218.7,1123.7 C220.6,1119.8 222.5,1115.7 224.4,1113.5 C225.9,1111.8 227.4,1110.7 228.9,1110.8 C230.8,1110.9 232.7,1113.8 234.6,1115.8 C236.5,1117.8 238.4,1120.6 240.3,1122.6 C242.2,1124.6 244.0,1127.2 245.9,1127.6 C247.4,1127.9 249.0,1127.8 250.5,1126.0 C252.0,1124.2 253.5,1119.6 255.0,1116.9 C256.9,1113.7 258.8,1111.0 260.7,1109.0 C262.6,1107.0 264.4,1105.3 266.3,1105.1 C268.2,1105.0 270.1,1106.7 272.0,1107.9 C273.9,1109.1 275.8,1111.3 277.7,1112.4 C279.9,1113.7 282.2,1115.1 284.5,1114.7 C286.4,1114.3 288.2,1112.1 290.1,1111.3 C292.0,1110.4 293.9,1109.1 295.8,1109.7 C297.7,1110.2 299.6,1112.5 301.5,1114.7 C303.4,1116.8 305.2,1120.6 307.1,1122.6 C308.6,1124.2 310.2,1126.2 311.7,1126.0 C313.2,1125.8 314.7,1123.2 316.2,1121.5 C318.1,1119.2 320.0,1115.7 321.9,1113.5 C323.8,1111.4 325.6,1109.5 327.5,1108.5 C330.2,1107.1 333.0,1107.4 335.7,1108.3 C337.6,1109.0 339.4,1110.9 341.3,1111.7 C343.2,1112.5 345.1,1112.9 347.0,1113.1 C348.5,1113.2 350.0,1114.1 351.5,1113.1 C353.0,1112.0 354.6,1108.6 356.1,1106.7 C358.0,1104.4 359.8,1102.5 361.7,1101.1 C363.6,1099.7 365.5,1098.5 367.4,1098.3 C369.3,1098.2 371.2,1099.9 373.1,1100.4 C375.0,1100.8 376.8,1100.3 378.7,1101.1 C380.6,1101.9 382.5,1104.2 384.4,1105.1 C386.3,1106.1 388.2,1107.0 390.1,1106.7 C392.0,1106.4 393.8,1105.2 395.7,1103.3 C397.6,1101.4 399.5,1097.7 401.4,1095.4 C403.3,1093.1 405.2,1090.4 407.1,1089.7 C409.0,1089.1 410.8,1090.5 412.7,1091.3 C415.4,1092.5 418.0,1096.7 420.7,1096.5 C422.6,1096.4 424.4,1094.6 426.3,1093.1 C428.2,1091.7 430.1,1089.2 432.0,1087.9 C433.5,1086.9 435.0,1085.6 436.5,1085.9 C438.0,1086.2 439.6,1087.4 441.1,1089.7 C442.6,1092.1 444.1,1096.4 445.6,1099.9 C447.5,1104.3 449.4,1109.6 451.3,1113.5 C453.2,1117.5 455.0,1121.7 456.9,1123.7 C459.2,1126.2 461.5,1125.4 463.7,1125.3 C466.0,1125.2 468.3,1124.1 470.5,1123.3 C472.8,1122.4 475.1,1121.1 477.3,1120.3 C479.6,1119.5 481.9,1119.8 484.1,1118.5 C486.4,1117.2 488.7,1114.1 490.9,1112.4 C493.2,1110.7 495.5,1109.4 497.7,1108.5 C500.4,1107.6 503.0,1109.0 505.7,1107.4 C507.6,1106.3 509.4,1105.9 511.3,1102.2 C512.8,1099.3 514.4,1093.9 515.9,1089.7 C517.4,1085.6 518.9,1080.5 520.4,1077.3 C521.9,1074.1 523.4,1071.7 524.9,1070.5 C526.4,1069.2 528.0,1069.3 529.5,1069.8 C531.4,1070.4 533.2,1073.3 535.1,1075.0 C537.4,1077.0 539.7,1078.6 541.9,1080.7 C543.8,1082.4 545.7,1083.9 547.6,1086.3 C549.5,1088.8 551.4,1092.2 553.3,1095.4 C555.2,1098.6 557.0,1102.8 558.9,1105.6 C560.8,1108.4 562.7,1111.1 564.6,1112.4 C566.5,1113.7 568.4,1113.9 570.3,1113.5 C572.2,1113.2 574.0,1111.6 575.9,1110.1 C577.8,1108.6 579.7,1105.3 581.6,1104.5 C583.1,1103.8 584.6,1103.9 586.1,1104.5 C588.0,1105.1 589.9,1107.8 591.8,1109.0 C593.7,1110.2 595.6,1112.1 597.5,1111.9 C599.4,1111.8 601.2,1110.8 603.1,1107.9 C605.0,1104.9 606.9,1098.2 608.8,1094.3 C610.7,1090.3 612.6,1086.8 614.5,1084.1 C616.4,1081.3 618.2,1078.9 620.1,1077.9 C622.0,1077.0 623.9,1077.4 625.8,1078.4 C627.7,1079.4 629.6,1082.4 631.5,1084.1 C633.7,1086.1 636.0,1088.6 638.3,1089.1 C640.2,1089.4 642.0,1088.6 643.9,1087.5 C645.8,1086.4 647.7,1083.7 649.6,1082.5 C651.5,1081.3 653.4,1080.2 655.3,1080.2 C657.5,1080.2 659.8,1082.3 662.1,1083.4"/>
<path class="w" d="M796.8,198.1 C798.7,197.8 800.6,197.0 802.5,197.0 C804.4,197.0 806.2,198.1 808.1,198.1 C810.0,198.1 811.9,197.6 813.8,197.0 C815.7,196.4 817.6,195.8 819.5,194.7 C821.7,193.5 824.0,190.3 826.3,189.7 C828.2,189.3 830.0,190.3 831.9,190.7 C833.8,191.0 835.7,191.5 837.6,192.0 C839.5,192.5 841.4,193.5 843.3,193.6 C845.2,193.7 847.0,193.1 848.9,192.5 C851.2,191.7 853.5,190.8 855.7,189.1 C857.6,187.6 859.5,185.4 861.4,183.4 C863.3,181.4 865.2,177.3 867.1,177.1 C868.6,176.8 870.1,177.4 871.6,180.0 C873.1,182.6 874.6,185.5 876.1,192.5 C877.3,197.7 878.4,205.3 879.5,212.9 C880.7,220.4 881.8,229.1 882.9,237.8 C884.1,246.5 885.2,257.8 886.3,265.0 C887.6,273.1 888.9,280.6 890.2,282.0 C891.5,283.4 892.9,278.3 894.3,271.8 C895.4,266.4 896.5,257.4 897.7,249.1 C898.8,240.8 899.9,231.4 901.1,221.9 C902.2,212.5 903.3,202.3 904.5,192.5 C905.6,182.6 906.7,171.3 907.9,163.0 C909.4,152.0 910.9,145.6 912.4,138.1 C913.9,130.5 915.4,122.5 916.9,117.7 C918.8,111.7 920.7,109.6 922.6,109.1 C924.1,108.6 925.6,109.8 927.1,112.0 C928.6,114.2 930.2,118.2 931.7,122.2 C933.2,126.2 934.7,131.1 936.2,135.8 C937.7,140.5 939.2,145.6 940.7,150.5 C942.2,155.4 943.8,160.5 945.3,165.3 C946.8,170.0 948.3,174.3 949.8,178.9 C951.3,183.4 952.8,188.1 954.3,192.5 C955.8,196.8 957.4,201.3 958.9,204.9 C960.8,209.5 962.6,213.5 964.5,216.3 C966.8,219.6 969.1,221.2 971.3,221.9 C973.6,222.7 975.9,221.5 978.1,220.8 C980.0,220.2 981.9,219.0 983.8,218.5 C985.7,218.1 987.6,217.3 989.5,218.1 C991.0,218.7 992.5,220.3 994.0,221.9 C995.5,223.5 997.0,225.7 998.5,227.6 C1000.4,229.9 1002.3,232.4 1004.2,234.4 C1006.1,236.4 1008.0,238.8 1009.9,239.4 C1011.8,240.0 1013.6,239.6 1015.5,237.8 C1017.0,236.4 1018.6,233.6 1020.1,231.0 C1021.6,228.4 1023.1,225.0 1024.6,221.9 C1026.5,218.2 1028.4,213.8 1030.3,210.6 C1032.2,207.4 1034.0,204.6 1035.9,202.7 C1037.8,200.7 1039.7,199.5 1041.6,198.8 C1043.9,197.9 1046.1,198.7 1048.4,198.6 C1050.7,198.5 1052.9,198.7 1055.2,198.1 C1057.5,197.6 1059.7,196.4 1062.0,195.4 C1064.3,194.4 1066.5,193.1 1068.8,192.0 C1071.1,191.0 1073.3,189.0 1075.6,189.1 C1077.5,189.1 1079.4,188.9 1081.3,191.3 C1082.8,193.3 1084.3,196.1 1085.8,200.4 C1087.3,204.7 1088.8,211.9 1090.3,217.4 C1091.8,222.9 1093.4,229.0 1094.9,233.3 C1096.8,238.6 1098.6,242.4 1100.5,244.1 C1102.0,245.5 1103.6,245.5 1105.1,244.6 C1107.0,243.5 1108.8,239.3 1110.7,236.7 C1112.6,234.0 1114.5,230.9 1116.4,228.7 C1119.1,225.6 1121.8,225.0 1124.5,222.4 C1126.4,220.6 1128.3,218.6 1130.2,216.3 C1132.1,213.9 1134.0,211.2 1135.9,208.3 C1137.8,205.5 1139.6,202.3 1141.5,199.3 C1143.4,196.2 1145.3,192.3 1147.2,190.2 C1149.1,188.1 1151.0,186.5 1152.9,186.8 C1154.4,187.0 1155.9,188.3 1157.4,190.2 C1158.9,192.1 1160.4,195.7 1161.9,198.1 C1163.4,200.6 1165.0,203.3 1166.5,204.9 C1168.0,206.5 1169.5,207.3 1171.0,207.7 C1172.9,208.0 1174.8,206.6 1176.7,206.1 C1178.9,205.5 1181.2,205.4 1183.5,204.5 C1185.4,203.7 1187.2,202.8 1189.1,201.5 C1191.0,200.3 1192.9,198.1 1194.8,197.0 C1197.1,195.7 1199.3,195.0 1201.6,194.7 C1203.9,194.5 1206.1,194.6 1208.4,195.4 C1210.3,196.1 1212.2,197.3 1214.1,198.6 C1216.0,199.9 1217.8,201.6 1219.7,203.1 C1221.6,204.7 1223.5,206.8 1225.4,207.9 C1227.7,209.2 1229.9,208.5 1232.2,209.5 C1234.1,210.3 1236.0,211.1 1237.9,212.9 C1239.4,214.3 1240.9,216.6 1242.4,218.5 C1243.9,220.4 1245.4,222.9 1246.9,224.2 C1248.3,225.4 1249.7,226.5 1251.0,226.5 C1252.7,226.5 1254.3,224.4 1256.0,223.1 C1257.9,221.5 1259.8,219.1 1261.7,217.4 C1263.9,215.3 1266.2,213.5 1268.5,211.7 C1270.7,209.9 1273.0,207.4 1275.3,206.5 C1277.2,205.8 1279.0,205.7 1280.9,206.1 C1283.2,206.5 1285.5,208.0 1287.7,209.5 C1289.6,210.7 1291.5,214.0 1293.4,214.0 C1295.3,214.0 1297.2,213.5 1299.1,209.5 C1300.6,206.2 1302.1,199.8 1303.6,194.7 C1305.1,189.6 1306.6,183.4 1308.1,178.9 C1310.0,173.2 1311.9,169.0 1313.8,165.3 C1315.7,161.5 1317.6,158.0 1319.5,156.2 C1321.4,154.4 1323.2,154.8 1325.1,154.4 C1327.4,153.9 1329.7,153.3 1331.9,153.5 C1333.8,153.7 1335.7,153.7 1337.6,155.1 C1339.5,156.5 1341.4,158.8 1343.3,161.9 C1344.8,164.4 1346.3,167.5 1347.8,170.9 C1349.3,174.3 1350.8,178.7 1352.3,182.3 C1353.8,185.9 1355.4,189.5 1356.9,192.5 C1358.8,196.2 1360.6,199.1 1362.5,201.5 C1364.8,204.5 1367.1,206.2 1369.3,207.9 C1371.6,209.6 1373.9,210.6 1376.1,211.7 C1378.4,212.9 1380.7,214.0 1382.9,214.7 C1384.8,215.2 1386.7,216.1 1388.6,215.6 C1390.5,215.1 1392.4,213.9 1394.3,211.7 C1396.2,209.6 1398.0,205.5 1399.9,202.7 C1401.8,199.8 1403.7,197.3 1405.6,194.7 C1407.5,192.2 1409.4,189.3 1411.3,187.5 C1413.2,185.7 1415.0,184.9 1416.9,183.9 C1419.2,182.6 1421.5,181.7 1423.7,180.7 C1426.0,179.7 1428.3,178.2 1430.5,177.7 C1432.8,177.2 1435.1,177.6 1437.3,177.7 C1439.6,177.8 1441.9,178.1 1444.1,178.4 C1446.0,178.7 1447.9,179.2 1449.8,179.5 C1451.5,179.9 1453.3,180.2 1455.0,180.5"/>
<path class="w" d="M796.8,348.6 C798.7,348.1 800.6,348.0 802.5,347.0 C804.4,346.1 806.2,344.3 808.1,342.9 C810.0,341.6 811.9,339.7 813.8,338.9 C815.3,338.2 816.8,337.4 818.3,337.7 C819.8,338.0 821.4,339.4 822.9,340.7 C824.8,342.2 826.6,344.6 828.5,346.3 C830.4,348.1 832.3,350.5 834.2,351.3 C835.7,352.0 837.2,352.1 838.7,351.5 C840.6,350.8 842.5,347.9 844.4,346.3 C846.7,344.5 848.9,343.7 851.2,341.8 C853.1,340.2 855.0,339.0 856.9,336.1 C858.8,333.3 860.6,328.1 862.5,324.8 C864.4,321.5 866.3,316.5 868.2,316.2 C869.7,315.9 871.2,316.9 872.7,320.3 C874.2,323.6 875.8,328.7 877.3,336.1 C878.4,341.7 879.5,349.0 880.7,356.5 C881.8,364.1 882.9,373.5 884.1,381.5 C885.2,389.4 886.3,398.6 887.5,404.1 C888.8,410.4 890.0,414.5 891.3,415.0 C892.7,415.6 894.0,412.2 895.4,406.4 C896.5,401.6 897.7,393.9 898.8,386.0 C899.9,378.1 901.1,367.5 902.2,358.8 C903.3,350.1 904.5,341.8 905.6,333.9 C906.7,325.9 907.9,317.9 909.0,311.2 C910.5,302.2 912.0,295.3 913.5,288.5 C915.0,281.7 916.6,274.8 918.1,270.4 C920.0,264.9 921.8,262.1 923.7,261.8 C925.2,261.5 926.8,262.9 928.3,265.9 C929.8,268.8 931.3,274.2 932.8,279.5 C934.3,284.8 935.8,291.4 937.3,297.6 C938.8,303.8 940.4,311.2 941.9,316.9 C943.4,322.5 944.9,327.4 946.4,331.6 C947.9,335.8 949.4,339.1 950.9,341.8 C952.8,345.2 954.7,346.8 956.6,348.6 C958.9,350.7 961.1,351.8 963.4,352.7 C965.7,353.5 967.9,353.0 970.2,353.6 C972.5,354.2 974.7,354.6 977.0,356.1 C978.9,357.3 980.8,359.5 982.7,361.1 C984.6,362.7 986.4,364.7 988.3,365.6 C990.2,366.5 992.1,366.7 994.0,366.3 C995.9,365.9 997.8,363.9 999.7,363.3 C1001.6,362.7 1003.4,362.3 1005.3,362.7 C1007.2,363.0 1009.1,364.2 1011.0,365.6 C1012.9,367.0 1014.8,369.6 1016.7,371.3 C1018.6,373.0 1020.4,374.7 1022.3,375.8 C1024.2,376.9 1026.1,377.6 1028.0,377.6 C1029.9,377.6 1031.8,376.7 1033.7,375.8 C1035.6,374.9 1037.4,373.9 1039.3,372.4 C1041.2,370.9 1043.1,368.4 1045.0,366.7 C1046.9,365.0 1048.8,363.5 1050.7,362.2 C1052.9,360.7 1055.2,359.7 1057.5,358.8 C1059.7,357.9 1062.0,356.9 1064.3,356.5 C1066.5,356.2 1068.8,356.8 1071.1,356.5 C1073.3,356.2 1075.6,355.8 1077.9,354.7 C1079.8,353.8 1081.6,351.7 1083.5,350.9 C1085.4,350.0 1087.3,348.9 1089.2,349.7 C1090.7,350.4 1092.2,352.0 1093.7,354.3 C1095.2,356.5 1096.8,360.3 1098.3,363.3 C1099.8,366.4 1101.3,370.2 1102.8,372.4 C1104.7,375.2 1106.6,376.0 1108.5,376.9 C1110.7,378.1 1113.0,378.0 1115.3,378.1 C1118.7,378.1 1122.2,380.3 1125.7,375.8 C1127.2,373.9 1128.7,371.1 1130.2,367.9 C1131.7,364.7 1133.2,360.1 1134.7,356.5 C1136.2,352.9 1137.8,348.9 1139.3,346.3 C1141.2,343.1 1143.0,341.3 1144.9,340.2 C1146.8,339.1 1148.7,339.1 1150.6,339.5 C1152.5,340.0 1154.4,341.2 1156.3,342.9 C1158.2,344.6 1160.0,347.5 1161.9,349.7 C1163.8,352.0 1165.7,354.5 1167.6,356.5 C1169.5,358.6 1171.4,360.9 1173.3,362.2 C1175.5,363.7 1177.8,363.5 1180.1,364.0 C1182.0,364.4 1183.8,364.7 1185.7,364.9 C1187.6,365.2 1189.5,366.4 1191.4,365.6 C1193.3,364.8 1195.2,361.9 1197.1,359.9 C1199.0,358.0 1200.8,356.0 1202.7,353.8 C1204.6,351.7 1206.5,348.2 1208.4,347.0 C1209.9,346.1 1211.4,345.8 1212.9,346.3 C1214.4,346.9 1216.0,349.1 1217.5,350.4 C1219.4,352.1 1221.2,354.8 1223.1,355.4 C1225.0,356.0 1226.9,354.4 1228.8,353.8 C1231.1,353.1 1233.3,351.1 1235.6,351.3 C1237.5,351.5 1239.4,352.6 1241.3,354.3 C1243.2,355.9 1245.0,359.3 1246.9,361.1 C1249.2,363.2 1251.5,365.1 1253.7,365.6 C1256.0,366.1 1258.3,365.4 1260.5,364.0 C1262.4,362.9 1264.3,360.9 1266.2,358.8 C1267.7,357.1 1269.2,354.8 1270.7,353.1 C1272.6,351.0 1274.5,348.4 1276.4,347.9 C1277.9,347.5 1279.4,347.6 1280.9,349.1 C1282.4,350.5 1284.0,354.0 1285.5,356.5 C1287.0,359.1 1288.5,362.5 1290.0,364.5 C1291.1,366.0 1292.3,367.7 1293.4,367.9 C1294.9,368.1 1296.4,366.4 1297.9,363.3 C1299.4,360.3 1301.0,354.8 1302.5,349.7 C1304.0,344.6 1305.5,338.0 1307.0,332.7 C1308.5,327.4 1310.0,321.6 1311.5,318.0 C1313.4,313.5 1315.3,311.7 1317.2,310.7 C1319.5,309.6 1321.7,312.6 1324.0,313.5 C1326.3,314.3 1328.5,314.6 1330.8,315.7 C1333.1,316.9 1335.3,318.2 1337.6,320.3 C1339.9,322.3 1342.1,324.8 1344.4,328.2 C1346.3,331.1 1348.2,334.8 1350.1,338.4 C1352.0,342.0 1353.8,346.1 1355.7,349.7 C1357.6,353.3 1359.5,357.8 1361.4,359.9 C1363.3,362.1 1365.2,362.8 1367.1,362.7 C1369.0,362.5 1370.8,360.4 1372.7,358.8 C1375.0,356.9 1377.3,354.2 1379.5,352.0 C1381.8,349.8 1384.1,346.6 1386.3,345.7 C1388.6,344.7 1390.9,345.5 1393.1,346.3 C1395.4,347.2 1397.7,349.4 1399.9,350.9 C1401.8,352.1 1403.7,354.3 1405.6,354.3 C1407.5,354.3 1409.4,352.6 1411.3,350.9 C1413.2,349.2 1415.0,346.5 1416.9,344.1 C1418.8,341.6 1420.7,338.4 1422.6,336.1 C1424.5,333.9 1426.4,331.8 1428.3,330.5 C1430.2,329.1 1432.0,328.2 1433.9,328.2 C1435.8,328.2 1437.7,329.6 1439.6,330.5 C1441.5,331.3 1443.4,333.1 1445.3,333.4 C1447.2,333.7 1449.0,333.2 1450.9,332.1 C1452.1,331.4 1453.2,330.2 1454.3,329.3"/>
<path class="w" d="M796.8,499.1 C798.7,499.1 800.6,499.9 802.5,499.1 C804.0,498.3 805.5,496.6 807.0,495.2 C808.9,493.5 810.8,491.2 812.7,489.5 C814.6,487.8 816.4,485.5 818.3,485.0 C819.8,484.6 821.4,484.9 822.9,485.7 C824.4,486.4 825.9,488.3 827.4,489.5 C829.3,491.1 831.2,492.9 833.1,494.1 C835.0,495.2 836.8,495.9 838.7,496.3 C841.0,496.8 843.3,496.3 845.5,496.3 C847.8,496.3 850.1,496.8 852.3,496.3 C854.2,495.9 856.1,496.2 858.0,494.1 C859.5,492.3 861.0,488.5 862.5,486.1 C864.4,483.2 866.3,479.1 868.2,478.7 C869.7,478.3 871.2,478.8 872.7,481.6 C874.2,484.4 875.8,488.1 877.3,495.2 C878.4,500.5 879.5,508.4 880.7,515.6 C881.8,522.8 882.9,531.1 884.1,538.3 C885.2,545.4 886.3,553.9 887.5,558.7 C888.8,564.1 890.0,566.9 891.3,567.1 C892.7,567.2 894.0,564.4 895.4,558.7 C896.5,553.9 897.7,546.2 898.8,538.3 C899.9,530.3 901.1,520.1 902.2,511.1 C903.3,502.0 904.5,492.2 905.6,483.9 C906.7,475.6 907.9,467.7 909.0,461.2 C910.5,452.5 912.0,447.2 913.5,440.8 C915.0,434.4 916.6,427.2 918.1,422.7 C920.0,417.1 921.8,413.7 923.7,413.1 C925.2,412.7 926.8,414.5 928.3,417.0 C929.8,419.5 931.3,424.2 932.8,428.3 C934.3,432.5 935.8,437.2 937.3,441.9 C938.8,446.7 940.4,451.6 941.9,456.7 C943.4,461.8 944.9,467.2 946.4,472.5 C947.9,477.8 949.4,483.3 950.9,488.4 C952.4,493.5 954.0,498.8 955.5,503.1 C957.0,507.5 958.5,511.6 960.0,514.5 C961.9,518.0 963.8,520.2 965.7,520.8 C967.6,521.4 969.4,518.9 971.3,517.9 C973.6,516.6 975.9,514.3 978.1,514.0 C980.0,513.8 981.9,514.6 983.8,515.6 C985.7,516.6 987.6,518.5 989.5,520.1 C991.4,521.8 993.2,523.7 995.1,525.3 C997.0,527.0 998.9,528.6 1000.8,529.9 C1003.1,531.4 1005.3,533.2 1007.6,533.3 C1009.5,533.4 1011.4,532.9 1013.3,531.5 C1015.2,530.0 1017.0,526.9 1018.9,524.7 C1020.8,522.4 1022.7,519.4 1024.6,517.9 C1026.9,516.0 1029.1,516.1 1031.4,515.1 C1033.3,514.4 1035.2,513.8 1037.1,512.9 C1039.0,511.9 1040.8,510.6 1042.7,509.5 C1045.0,508.1 1047.3,506.5 1049.5,505.4 C1051.8,504.3 1054.1,504.3 1056.3,503.1 C1058.2,502.1 1060.1,500.8 1062.0,499.3 C1063.9,497.8 1065.8,494.9 1067.7,494.1 C1069.2,493.4 1070.7,493.2 1072.2,493.6 C1074.1,494.1 1076.0,496.1 1077.9,497.5 C1079.8,498.8 1081.6,500.9 1083.5,501.5 C1085.8,502.3 1088.1,501.2 1090.3,500.9 C1092.6,500.6 1094.9,498.9 1097.1,499.7 C1099.0,500.4 1100.9,502.5 1102.8,504.3 C1104.7,506.1 1106.6,508.6 1108.5,510.6 C1110.4,512.6 1112.2,514.5 1114.1,516.1 C1118.0,519.2 1121.8,520.2 1125.7,522.4 C1127.6,523.5 1129.4,525.8 1131.3,525.8 C1133.2,525.8 1135.1,525.0 1137.0,522.4 C1138.5,520.3 1140.0,517.1 1141.5,513.3 C1143.0,509.6 1144.6,503.9 1146.1,499.7 C1147.6,495.6 1149.1,491.5 1150.6,488.4 C1152.1,485.3 1153.6,482.7 1155.1,481.1 C1157.0,479.2 1158.9,478.9 1160.8,479.3 C1162.7,479.8 1164.6,481.4 1166.5,483.9 C1168.0,485.9 1169.5,488.6 1171.0,491.8 C1172.5,495.0 1174.0,499.5 1175.5,503.1 C1177.0,506.7 1178.6,510.9 1180.1,513.3 C1182.0,516.4 1183.8,517.6 1185.7,517.9 C1187.6,518.2 1189.5,516.6 1191.4,515.1 C1193.3,513.7 1195.2,511.0 1197.1,509.3 C1199.0,507.5 1200.8,506.2 1202.7,504.7 C1205.0,502.9 1207.3,499.5 1209.5,499.3 C1211.4,499.1 1213.3,500.4 1215.2,502.0 C1217.1,503.6 1219.0,507.0 1220.9,508.8 C1222.6,510.5 1224.3,512.3 1226.1,512.7 C1228.1,513.0 1230.2,511.3 1232.2,509.9 C1234.1,508.7 1236.0,506.2 1237.9,504.9 C1239.8,503.7 1241.6,503.1 1243.5,502.7 C1245.8,502.2 1248.1,502.0 1250.3,502.5 C1252.2,502.8 1254.1,503.7 1256.0,504.7 C1257.9,505.7 1259.8,507.2 1261.7,508.3 C1263.6,509.5 1265.4,511.5 1267.3,511.5 C1269.2,511.5 1271.1,509.6 1273.0,508.3 C1274.9,507.1 1276.8,505.1 1278.7,504.3 C1280.2,503.6 1281.7,502.9 1283.2,503.1 C1285.1,503.4 1287.0,505.3 1288.9,506.5 C1290.8,507.7 1292.6,510.2 1294.5,510.4 C1296.4,510.6 1298.3,510.4 1300.2,507.7 C1301.7,505.5 1303.2,501.8 1304.7,497.5 C1306.2,493.1 1307.8,486.9 1309.3,481.6 C1310.8,476.3 1312.3,469.4 1313.8,465.7 C1315.5,461.5 1317.3,460.3 1319.0,459.4 C1321.1,458.3 1323.1,459.5 1325.1,461.2 C1327.0,462.8 1328.9,467.0 1330.8,468.7 C1332.7,470.4 1334.6,470.8 1336.5,471.4 C1338.7,472.1 1341.0,471.1 1343.3,472.1 C1345.2,472.9 1347.0,473.8 1348.9,475.9 C1350.8,478.1 1352.7,481.6 1354.6,485.0 C1356.5,488.4 1358.4,493.2 1360.3,496.3 C1362.2,499.4 1364.0,502.3 1365.9,503.6 C1367.8,504.9 1369.7,504.7 1371.6,504.3 C1373.5,503.8 1375.4,501.8 1377.3,500.9 C1379.2,499.9 1381.0,498.7 1382.9,498.6 C1384.8,498.5 1386.7,499.3 1388.6,500.2 C1390.5,501.1 1392.4,503.0 1394.3,503.8 C1396.5,504.7 1398.8,504.5 1401.1,504.7 C1403.3,505.0 1405.6,504.5 1407.9,505.4 C1409.8,506.2 1411.6,508.3 1413.5,509.3 C1415.0,510.0 1416.6,511.3 1418.1,511.1 C1420.0,510.8 1421.8,508.6 1423.7,506.5 C1425.6,504.5 1427.5,500.9 1429.4,498.6 C1431.3,496.3 1433.2,494.0 1435.1,492.5 C1437.3,490.7 1439.6,490.7 1441.9,489.5 C1443.8,488.5 1445.6,487.2 1447.5,486.1 C1449.8,484.8 1452.1,483.6 1454.3,482.3"/>
<path class="w" d="M796.8,649.3 C799.1,649.4 801.3,650.0 803.6,649.7 C805.9,649.5 808.1,648.2 810.4,647.9 C812.3,647.7 814.2,647.6 816.1,647.9 C818.0,648.2 819.8,649.2 821.7,649.7 C823.6,650.2 825.5,650.9 827.4,650.9 C829.7,650.8 831.9,649.2 834.2,649.1 C836.1,648.9 838.0,649.7 839.9,649.7 C842.1,649.8 844.4,649.3 846.7,649.3 C849.7,649.2 852.7,651.7 855.7,649.7 C857.2,648.8 858.8,647.8 860.3,645.2 C861.8,642.6 863.3,636.7 864.8,633.9 C866.7,630.3 868.6,627.3 870.5,627.5 C872.0,627.7 873.5,628.7 875.0,632.7 C876.5,636.8 878.0,644.1 879.5,652.0 C880.7,657.9 881.8,665.6 882.9,672.4 C884.1,679.2 885.2,687.1 886.3,692.8 C887.6,699.3 888.9,706.9 890.2,708.2 C891.5,709.6 892.9,705.4 894.3,699.6 C895.4,694.8 896.5,687.1 897.7,679.2 C898.8,671.3 899.9,660.7 901.1,652.0 C902.2,643.3 903.3,634.5 904.5,627.1 C906.0,617.2 907.5,609.3 909.0,602.1 C910.5,595.0 912.0,589.4 913.5,584.0 C915.4,577.3 917.3,570.9 919.2,567.0 C921.1,563.1 923.0,561.1 924.9,560.9 C926.8,560.7 928.6,562.5 930.5,565.9 C932.0,568.6 933.6,572.9 935.1,577.2 C936.6,581.5 938.1,586.8 939.6,591.9 C941.1,597.0 942.6,603.5 944.1,607.8 C945.6,612.1 947.2,614.2 948.7,618.0 C950.2,621.8 951.7,626.1 953.2,630.5 C954.7,634.8 956.2,639.7 957.7,644.1 C959.2,648.4 960.8,653.3 962.3,656.5 C964.2,660.6 966.0,662.9 967.9,664.5 C970.2,666.3 972.5,665.3 974.7,665.1 C977.0,665.0 979.3,663.7 981.5,663.8 C983.8,663.9 986.1,664.6 988.3,665.6 C990.2,666.4 992.1,667.3 994.0,669.0 C995.9,670.7 997.8,673.7 999.7,675.8 C1001.6,677.9 1003.4,679.8 1005.3,681.5 C1007.2,683.2 1009.1,685.1 1011.0,686.0 C1012.9,686.9 1014.8,687.5 1016.7,687.1 C1018.6,686.8 1020.4,686.1 1022.3,683.7 C1023.8,681.9 1025.4,678.6 1026.9,675.8 C1028.4,673.0 1029.9,669.2 1031.4,666.7 C1033.3,663.6 1035.2,661.2 1037.1,659.9 C1038.6,658.9 1040.1,658.7 1041.6,658.8 C1043.5,659.0 1045.4,661.1 1047.3,661.7 C1049.2,662.4 1051.0,663.1 1052.9,662.7 C1054.8,662.2 1056.7,660.1 1058.6,658.8 C1060.5,657.5 1062.4,655.6 1064.3,654.7 C1066.5,653.7 1068.8,654.0 1071.1,653.8 C1073.3,653.6 1075.6,653.8 1077.9,653.6 C1080.1,653.4 1082.4,651.9 1084.7,652.5 C1086.2,652.8 1087.7,654.0 1089.2,654.7 C1091.1,655.7 1093.0,658.0 1094.9,657.7 C1096.4,657.4 1097.9,655.7 1099.4,654.3 C1101.3,652.5 1103.2,649.4 1105.1,647.5 C1106.6,645.9 1108.1,643.6 1109.6,643.4 C1111.1,643.2 1112.6,644.7 1114.1,646.3 C1115.9,648.2 1117.6,650.9 1119.3,654.3 C1121.1,657.7 1122.8,663.4 1124.5,666.7 C1126.0,669.6 1127.6,673.0 1129.1,673.5 C1130.6,674.1 1132.1,671.8 1133.6,670.1 C1135.5,668.0 1137.4,663.9 1139.3,661.1 C1141.2,658.2 1143.0,655.1 1144.9,653.1 C1146.8,651.1 1148.7,649.8 1150.6,649.1 C1152.5,648.3 1154.4,648.3 1156.3,648.6 C1158.2,648.9 1160.0,650.3 1161.9,650.9 C1163.4,651.3 1165.0,652.2 1166.5,652.0 C1168.4,651.8 1170.2,649.8 1172.1,648.6 C1174.0,647.4 1175.9,645.4 1177.8,644.7 C1180.1,643.9 1182.3,644.6 1184.6,644.7 C1186.9,644.9 1189.1,645.7 1191.4,645.9 C1193.7,646.0 1195.9,645.5 1198.2,645.7 C1200.5,645.8 1202.7,646.1 1205.0,647.0 C1207.3,647.9 1209.5,649.1 1211.8,650.9 C1213.7,652.3 1215.6,654.5 1217.5,656.1 C1219.7,658.0 1222.0,660.8 1224.3,661.1 C1226.2,661.3 1228.0,659.9 1229.9,658.8 C1231.8,657.7 1233.7,655.5 1235.6,654.7 C1237.5,654.0 1239.4,653.7 1241.3,654.3 C1243.2,654.8 1245.0,657.0 1246.9,658.1 C1248.8,659.3 1250.7,659.4 1252.6,661.1 C1254.5,662.7 1256.4,665.6 1258.3,667.9 C1260.2,670.1 1262.0,673.3 1263.9,674.7 C1265.8,676.0 1267.7,676.6 1269.6,675.8 C1271.5,675.0 1273.4,671.2 1275.3,670.1 C1276.8,669.3 1278.3,668.6 1279.8,669.0 C1281.3,669.4 1282.8,670.5 1284.3,672.4 C1285.8,674.3 1287.4,678.2 1288.9,680.3 C1290.6,682.8 1292.3,685.6 1294.1,685.5 C1295.7,685.5 1297.4,683.6 1299.1,680.3 C1300.6,677.4 1302.1,673.7 1303.6,667.9 C1304.7,663.5 1305.9,657.3 1307.0,652.0 C1308.1,646.7 1309.3,641.0 1310.4,636.1 C1311.5,631.2 1312.7,626.0 1313.8,622.5 C1315.3,617.9 1316.8,616.9 1318.3,614.6 C1320.2,611.8 1322.1,609.5 1324.0,607.8 C1325.9,606.1 1327.8,604.9 1329.7,604.4 C1331.6,603.9 1333.4,604.1 1335.3,605.1 C1337.2,606.0 1339.1,607.2 1341.0,610.1 C1342.5,612.3 1344.0,615.2 1345.5,619.1 C1347.0,623.1 1348.6,629.1 1350.1,633.9 C1351.6,638.6 1353.1,643.1 1354.6,647.5 C1356.1,651.8 1357.6,656.9 1359.1,659.9 C1360.6,663.0 1362.2,664.5 1363.7,665.6 C1365.6,667.0 1367.4,666.6 1369.3,666.1 C1371.2,665.5 1373.1,663.6 1375.0,662.2 C1376.9,660.8 1378.8,658.9 1380.7,657.7 C1382.9,656.2 1385.2,655.5 1387.5,654.7 C1390.1,653.8 1392.8,653.8 1395.4,652.5 C1397.3,651.5 1399.2,649.8 1401.1,648.6 C1403.3,647.2 1405.6,645.9 1407.9,644.7 C1410.1,643.6 1412.4,642.3 1414.7,641.8 C1416.9,641.3 1419.2,641.2 1421.5,641.8 C1423.7,642.4 1426.0,644.4 1428.3,645.2 C1430.2,645.8 1432.0,647.2 1433.9,646.3 C1435.4,645.6 1437.0,644.1 1438.5,641.8 C1440.0,639.5 1441.5,635.5 1443.0,632.7 C1444.5,630.0 1446.0,627.1 1447.5,625.3 C1449.6,622.8 1451.6,622.7 1453.7,621.4"/>
<path class="w" d="M796.8,799.7 C799.1,800.1 801.3,800.5 803.6,800.9 C806.2,801.3 808.9,801.8 811.5,802.0 C814.2,802.2 816.8,802.3 819.5,802.0 C821.7,801.7 824.0,801.3 826.3,800.4 C828.2,799.7 830.0,798.7 831.9,797.5 C833.8,796.2 835.7,793.7 837.6,792.9 C839.5,792.2 841.4,792.6 843.3,792.9 C845.2,793.3 847.0,794.7 848.9,795.2 C850.8,795.7 852.7,796.5 854.6,795.7 C856.1,795.0 857.6,793.6 859.1,791.8 C861.0,789.6 862.9,785.0 864.8,782.7 C866.5,780.8 868.1,778.5 869.8,778.7 C871.3,778.8 872.8,779.2 874.3,782.7 C875.7,785.9 877.0,790.8 878.4,797.5 C879.5,803.0 880.7,811.4 881.8,817.9 C882.9,824.3 884.1,830.5 885.2,836.0 C886.3,841.5 887.5,847.5 888.6,850.7 C889.7,853.9 890.9,855.8 892.0,855.3 C893.1,854.7 894.3,852.1 895.4,847.3 C896.5,842.6 897.7,834.5 898.8,826.9 C899.9,819.4 901.1,810.3 902.2,802.0 C903.3,793.7 904.5,784.5 905.6,777.1 C907.1,767.2 908.6,759.7 910.1,752.1 C911.6,744.6 913.2,737.2 914.7,731.7 C916.2,726.3 917.7,722.2 919.2,719.3 C920.9,716.0 922.5,714.0 924.2,714.1 C925.9,714.2 927.7,717.1 929.4,720.4 C930.9,723.3 932.4,727.8 933.9,731.7 C935.4,735.7 937.0,740.3 938.5,744.2 C940.4,749.1 942.2,753.4 944.1,757.8 C945.6,761.3 947.2,764.0 948.7,768.0 C950.2,772.0 951.7,777.1 953.2,781.6 C954.7,786.1 956.2,790.7 957.7,795.2 C959.2,799.7 960.8,805.5 962.3,808.8 C963.8,812.1 965.3,814.0 966.8,814.9 C968.7,816.1 970.6,813.8 972.5,813.3 C974.7,812.7 977.0,811.2 979.3,811.5 C980.8,811.7 982.3,812.1 983.8,813.3 C985.3,814.6 986.8,817.0 988.3,819.0 C990.2,821.5 992.1,823.8 994.0,826.9 C995.5,829.5 997.0,833.1 998.5,835.5 C1000.4,838.6 1002.3,841.5 1004.2,842.8 C1005.7,843.9 1007.2,844.8 1008.7,843.9 C1010.2,843.1 1011.8,840.3 1013.3,837.8 C1014.8,835.4 1016.3,831.6 1017.8,829.2 C1019.7,826.2 1021.6,823.4 1023.5,822.4 C1025.0,821.6 1026.5,821.8 1028.0,822.4 C1029.9,823.1 1031.8,826.2 1033.7,827.4 C1035.6,828.6 1037.4,829.7 1039.3,829.7 C1040.8,829.6 1042.4,829.6 1043.9,828.1 C1045.8,826.2 1047.6,821.1 1049.5,817.9 C1051.4,814.7 1053.3,811.3 1055.2,808.8 C1057.1,806.3 1059.0,804.2 1060.9,803.1 C1063.1,801.9 1065.4,803.1 1067.7,803.1 C1070.3,803.2 1073.0,803.7 1075.6,803.6 C1078.2,803.5 1080.9,801.5 1083.5,802.5 C1085.4,803.1 1087.3,805.4 1089.2,806.5 C1091.5,807.9 1093.7,810.0 1096.0,809.9 C1098.3,809.9 1100.5,807.3 1102.8,806.1 C1105.1,804.8 1107.3,802.7 1109.6,802.5 C1111.1,802.3 1112.6,802.4 1114.1,803.1 C1116.1,804.0 1118.0,806.3 1119.9,808.2 C1121.8,810.1 1123.7,812.8 1125.7,814.5 C1127.6,816.1 1129.4,818.6 1131.3,818.3 C1132.8,818.1 1134.4,816.6 1135.9,814.5 C1137.4,812.3 1138.9,808.2 1140.4,805.4 C1142.3,802.0 1144.2,798.8 1146.1,796.3 C1148.0,793.9 1149.8,791.2 1151.7,790.7 C1153.6,790.2 1155.5,792.0 1157.4,793.4 C1159.3,794.8 1161.2,797.7 1163.1,799.3 C1165.3,801.2 1167.6,803.2 1169.9,803.6 C1172.1,803.9 1174.4,801.5 1176.7,801.3 C1178.9,801.1 1181.2,802.1 1183.5,802.5 C1185.7,802.8 1188.0,803.7 1190.3,803.6 C1192.5,803.5 1194.8,801.8 1197.1,802.0 C1199.0,802.1 1200.8,803.2 1202.7,803.8 C1205.0,804.5 1207.3,805.7 1209.5,805.9 C1211.8,806.0 1214.1,805.2 1216.3,804.9 C1218.6,804.7 1220.9,804.5 1223.1,804.3 C1225.4,804.0 1227.7,803.9 1229.9,803.6 C1232.2,803.3 1234.5,802.0 1236.7,802.7 C1238.6,803.3 1240.5,804.8 1242.4,806.5 C1244.3,808.3 1246.2,811.4 1248.1,813.3 C1250.3,815.7 1252.6,818.2 1254.9,819.0 C1257.1,819.8 1259.4,818.1 1261.7,817.9 C1264.3,817.6 1267.0,817.4 1269.6,817.4 C1272.2,817.4 1274.9,817.5 1277.5,817.9 C1280.2,818.2 1282.8,818.8 1285.5,819.7 C1287.7,820.4 1290.0,822.7 1292.3,822.4 C1294.5,822.1 1296.8,821.5 1299.1,817.9 C1300.6,815.4 1302.1,811.4 1303.6,807.7 C1305.1,803.9 1306.6,799.0 1308.1,795.2 C1309.6,791.4 1311.2,787.8 1312.7,785.0 C1314.6,781.5 1316.4,778.6 1318.3,777.5 C1320.2,776.5 1322.1,778.9 1324.0,778.7 C1325.9,778.4 1327.8,777.5 1329.7,775.9 C1331.6,774.3 1333.4,771.1 1335.3,769.1 C1337.2,767.1 1339.1,764.1 1341.0,763.9 C1342.9,763.7 1344.8,764.8 1346.7,768.0 C1348.2,770.6 1349.7,775.2 1351.2,779.3 C1352.7,783.5 1354.2,788.6 1355.7,792.9 C1357.2,797.3 1358.8,802.1 1360.3,805.4 C1362.5,810.3 1364.8,812.4 1367.1,814.5 C1369.3,816.5 1371.6,817.7 1373.9,817.9 C1375.8,818.0 1377.6,816.7 1379.5,816.1 C1381.8,815.2 1384.1,814.9 1386.3,813.3 C1388.6,811.7 1390.9,808.8 1393.1,806.5 C1395.4,804.3 1397.7,802.0 1399.9,799.7 C1402.2,797.5 1404.5,795.0 1406.7,792.9 C1409.0,790.9 1411.3,788.7 1413.5,787.3 C1416.2,785.6 1418.8,785.8 1421.5,784.3 C1423.7,783.0 1426.0,780.9 1428.3,779.3 C1430.2,778.0 1432.0,775.9 1433.9,775.5 C1435.8,775.0 1437.7,775.7 1439.6,776.6 C1441.5,777.6 1443.4,779.7 1445.3,781.1 C1446.8,782.3 1448.3,783.6 1449.8,784.3 C1451.3,785.0 1452.8,785.1 1454.3,785.5"/>
<path class="w" d="M796.8,950.4 C799.1,950.7 801.3,951.0 803.6,951.3 C806.2,951.7 808.9,952.4 811.5,952.7 C814.2,953.0 816.8,953.1 819.5,953.1 C822.1,953.1 824.8,952.9 827.4,952.7 C829.7,952.5 831.9,952.2 834.2,952.0 C836.1,951.8 838.0,952.0 839.9,951.5 C841.8,951.1 843.6,949.9 845.5,949.1 C847.4,948.2 849.3,946.7 851.2,946.3 C853.1,946.0 855.0,946.9 856.9,946.8 C858.8,946.7 860.6,946.4 862.5,945.9 C864.4,945.4 866.3,943.1 868.2,943.6 C869.7,944.1 871.2,944.9 872.7,947.5 C874.2,950.0 875.8,953.2 877.3,958.8 C878.4,963.0 879.5,969.8 880.7,974.7 C881.8,979.6 882.9,984.1 884.1,988.3 C885.2,992.4 886.3,997.4 887.5,999.6 C888.6,1001.8 889.7,1002.5 890.9,1001.4 C892.0,1000.3 893.1,996.9 894.3,992.8 C895.4,988.7 896.5,983.0 897.7,976.9 C898.8,970.9 899.9,963.3 901.1,956.5 C902.2,949.7 903.3,942.6 904.5,936.1 C905.6,929.7 906.7,923.4 907.9,918.0 C909.4,910.8 910.9,905.5 912.4,899.9 C913.9,894.2 915.4,888.5 916.9,884.0 C918.4,879.5 920.0,875.2 921.5,872.7 C923.0,870.1 924.5,868.4 926.0,868.6 C927.5,868.8 929.0,871.0 930.5,873.8 C932.0,876.6 933.6,881.0 935.1,885.1 C936.6,889.3 938.1,894.0 939.6,898.7 C941.1,903.5 942.6,908.7 944.1,913.5 C945.6,918.2 947.2,923.1 948.7,927.1 C950.2,931.0 951.7,934.2 953.2,937.3 C955.1,941.1 957.0,944.8 958.9,947.5 C960.8,950.1 962.6,952.1 964.5,953.1 C966.4,954.2 968.3,954.4 970.2,953.8 C972.1,953.2 974.0,950.4 975.9,949.7 C977.4,949.2 978.9,948.3 980.4,949.3 C981.9,950.2 983.4,952.7 984.9,955.4 C986.4,958.1 988.0,962.0 989.5,965.6 C991.0,969.2 992.5,973.9 994.0,976.9 C995.5,980.0 997.0,982.4 998.5,983.7 C1000.4,985.4 1002.3,985.5 1004.2,984.4 C1005.7,983.5 1007.2,981.6 1008.7,979.2 C1010.2,976.8 1011.8,972.6 1013.3,970.1 C1014.8,967.7 1016.3,965.9 1017.8,964.5 C1019.3,963.1 1020.8,961.6 1022.3,961.7 C1023.8,961.9 1025.4,964.4 1026.9,965.6 C1028.4,966.8 1029.9,967.9 1031.4,969.0 C1033.3,970.4 1035.2,972.1 1037.1,973.1 C1038.6,973.9 1040.1,975.3 1041.6,974.7 C1043.1,974.0 1044.6,970.7 1046.1,969.0 C1048.0,966.8 1049.9,965.0 1051.8,963.3 C1054.1,961.3 1056.3,958.6 1058.6,958.3 C1060.5,958.1 1062.4,959.9 1064.3,960.6 C1065.8,961.2 1067.3,962.4 1068.8,962.2 C1070.3,962.0 1071.8,960.4 1073.3,959.5 C1075.2,958.3 1077.1,956.6 1079.0,956.1 C1081.3,955.4 1083.5,956.2 1085.8,956.5 C1088.4,956.9 1091.1,958.0 1093.7,958.3 C1096.4,958.7 1099.0,958.9 1101.7,958.8 C1104.3,958.7 1107.0,958.2 1109.6,957.7 C1111.9,957.2 1114.1,956.2 1116.4,955.9 C1117.6,955.6 1118.8,955.2 1120.0,955.4 C1121.9,955.6 1123.8,957.7 1125.7,958.3 C1127.6,959.0 1129.4,959.6 1131.3,959.3 C1133.2,959.0 1135.1,957.4 1137.0,956.5 C1138.9,955.6 1140.8,955.4 1142.7,953.8 C1144.2,952.5 1145.7,950.5 1147.2,948.6 C1148.7,946.7 1150.2,943.9 1151.7,942.5 C1153.2,941.1 1154.8,940.3 1156.3,940.2 C1157.8,940.1 1159.3,940.0 1160.8,941.8 C1162.3,943.6 1163.8,947.7 1165.3,950.9 C1166.8,954.1 1168.4,958.5 1169.9,961.1 C1171.4,963.6 1172.9,965.2 1174.4,966.1 C1176.3,967.1 1178.2,965.3 1180.1,965.1 C1182.3,964.9 1184.6,964.1 1186.9,965.1 C1188.4,965.8 1189.9,967.4 1191.4,968.5 C1192.5,969.4 1193.7,971.0 1194.8,971.3 C1196.7,971.7 1198.6,969.5 1200.5,967.4 C1202.0,965.8 1203.5,963.1 1205.0,961.1 C1206.5,959.1 1208.0,956.4 1209.5,955.4 C1211.4,954.2 1213.3,955.2 1215.2,955.9 C1217.1,956.5 1219.0,958.2 1220.9,959.3 C1222.8,960.3 1224.6,961.6 1226.5,962.2 C1228.8,962.9 1231.1,962.9 1233.3,962.9 C1235.6,962.9 1237.9,962.1 1240.1,962.2 C1242.0,962.3 1243.9,962.7 1245.8,963.3 C1247.7,964.0 1249.6,965.3 1251.5,966.3 C1253.4,967.2 1255.2,968.5 1257.1,969.0 C1259.4,969.6 1261.7,969.5 1263.9,969.0 C1265.8,968.6 1267.7,967.9 1269.6,966.7 C1271.5,965.5 1273.4,963.4 1275.3,961.7 C1277.2,960.0 1279.0,957.0 1280.9,956.5 C1282.4,956.1 1284.0,956.2 1285.5,957.7 C1287.0,959.2 1288.5,963.3 1290.0,965.6 C1291.5,967.9 1293.0,970.6 1294.5,971.7 C1296.4,973.1 1298.3,972.9 1300.2,971.3 C1301.7,970.0 1303.2,967.3 1304.7,964.5 C1306.2,961.6 1307.8,957.5 1309.3,954.3 C1310.8,951.1 1312.3,948.0 1313.8,945.2 C1315.7,941.8 1317.6,939.3 1319.5,936.1 C1321.0,933.6 1322.5,931.0 1324.0,928.2 C1325.5,925.4 1327.0,921.4 1328.5,919.1 C1330.4,916.3 1332.3,915.6 1334.2,914.1 C1336.5,912.4 1338.7,909.8 1341.0,910.1 C1342.9,910.3 1344.8,912.1 1346.7,914.1 C1348.2,915.8 1349.7,917.2 1351.2,920.3 C1352.7,923.4 1354.2,928.6 1355.7,932.7 C1357.2,936.9 1358.8,941.8 1360.3,945.2 C1361.8,948.6 1363.3,951.5 1364.8,953.1 C1366.3,954.7 1367.8,954.6 1369.3,954.7 C1371.2,954.9 1373.1,953.5 1375.0,953.6 C1376.9,953.7 1378.8,954.8 1380.7,955.4 C1382.6,956.0 1384.4,958.2 1386.3,957.2 C1387.8,956.5 1389.4,954.6 1390.9,952.0 C1392.4,949.4 1393.9,944.8 1395.4,941.8 C1396.9,938.8 1398.4,935.8 1399.9,933.9 C1401.4,932.0 1403.0,930.8 1404.5,930.5 C1406.4,930.0 1408.2,931.8 1410.1,932.7 C1412.0,933.7 1413.9,934.9 1415.8,936.1 C1417.7,937.3 1419.6,939.5 1421.5,940.0 C1423.7,940.5 1426.0,938.4 1428.3,937.9 C1430.5,937.5 1432.8,936.9 1435.1,937.3 C1437.3,937.6 1439.6,938.7 1441.9,940.0 C1444.1,941.2 1446.4,942.9 1448.7,944.7 C1450.6,946.3 1452.4,948.1 1454.3,949.7"/>
<path class="w" d="M796.8,1100.6 C798.7,1101.0 800.6,1101.1 802.5,1101.7 C804.4,1102.4 806.2,1103.5 808.1,1104.7 C810.0,1105.8 811.9,1107.2 813.8,1108.5 C815.7,1109.9 817.6,1111.2 819.5,1112.6 C821.7,1114.3 824.0,1116.2 826.3,1117.6 C828.2,1118.8 830.0,1120.4 831.9,1120.5 C833.8,1120.7 835.7,1120.0 837.6,1118.7 C839.5,1117.5 841.4,1114.5 843.3,1113.1 C845.5,1111.3 847.8,1110.6 850.1,1109.7 C852.3,1108.7 854.6,1108.4 856.9,1107.4 C858.8,1106.6 860.6,1105.4 862.5,1104.5 C864.0,1103.7 865.6,1102.1 867.1,1102.4 C868.6,1102.7 870.1,1104.1 871.6,1106.3 C873.1,1108.4 874.6,1111.4 876.1,1115.3 C877.6,1119.3 879.2,1125.2 880.7,1130.1 C882.2,1135.0 883.7,1141.1 885.2,1144.8 C886.5,1147.9 887.8,1151.6 889.1,1151.6 C890.4,1151.5 891.8,1148.8 893.1,1143.7 C894.3,1139.4 895.4,1132.3 896.5,1125.5 C897.7,1118.7 898.8,1110.4 899.9,1102.9 C901.1,1095.3 902.2,1087.8 903.3,1080.2 C904.5,1072.6 905.6,1064.3 906.7,1057.5 C908.2,1048.5 909.8,1042.0 911.3,1034.9 C912.8,1027.7 914.3,1020.1 915.8,1014.5 C917.3,1008.8 918.8,1003.9 920.3,1000.9 C921.6,998.3 922.9,996.2 924.2,996.3 C925.5,996.4 926.9,998.9 928.3,1002.0 C929.8,1005.4 931.3,1011.3 932.8,1016.7 C934.3,1022.2 935.8,1027.7 937.3,1034.9 C938.5,1040.3 939.6,1047.3 940.7,1053.0 C941.9,1058.7 943.0,1064.6 944.1,1068.9 C945.6,1074.5 947.2,1076.6 948.7,1080.2 C950.2,1083.8 951.7,1087.3 953.2,1090.4 C955.1,1094.3 957.0,1097.9 958.9,1100.6 C960.8,1103.3 962.6,1105.4 964.5,1106.7 C966.4,1108.0 968.3,1108.8 970.2,1108.5 C972.1,1108.3 974.0,1105.4 975.9,1105.1 C977.4,1104.9 978.9,1104.6 980.4,1106.3 C981.9,1108.0 983.4,1111.7 984.9,1115.3 C986.4,1118.9 988.0,1124.0 989.5,1127.8 C991.4,1132.5 993.2,1137.4 995.1,1140.3 C996.9,1142.9 998.6,1145.1 1000.3,1144.8 C1002.0,1144.5 1003.7,1142.2 1005.3,1139.1 C1006.8,1136.3 1008.4,1131.2 1009.9,1127.8 C1011.8,1123.5 1013.6,1119.1 1015.5,1116.5 C1017.4,1113.8 1019.3,1111.9 1021.2,1111.9 C1023.1,1111.9 1025.0,1114.8 1026.9,1116.5 C1028.8,1118.2 1030.6,1120.2 1032.5,1122.1 C1034.4,1124.0 1036.3,1127.2 1038.2,1127.8 C1039.7,1128.3 1041.2,1128.2 1042.7,1126.7 C1044.2,1125.2 1045.8,1121.1 1047.3,1118.7 C1049.2,1115.7 1051.0,1112.8 1052.9,1110.8 C1054.8,1108.8 1056.7,1106.9 1058.6,1106.7 C1060.5,1106.5 1062.4,1108.5 1064.3,1109.7 C1066.5,1111.1 1068.8,1113.9 1071.1,1114.9 C1073.3,1115.8 1075.6,1116.0 1077.9,1115.3 C1079.4,1114.9 1080.9,1113.8 1082.4,1113.1 C1083.9,1112.3 1085.4,1110.7 1086.9,1110.8 C1088.8,1110.9 1090.7,1113.3 1092.6,1115.3 C1094.5,1117.4 1096.4,1121.4 1098.3,1123.3 C1100.2,1125.2 1102.0,1127.0 1103.9,1126.7 C1105.8,1126.3 1107.7,1123.1 1109.6,1121.0 C1111.5,1118.9 1113.4,1116.0 1115.3,1114.2 C1118.7,1110.8 1122.2,1108.0 1125.7,1108.5 C1127.6,1108.8 1129.4,1110.6 1131.3,1111.5 C1133.2,1112.3 1135.1,1113.3 1137.0,1113.7 C1139.3,1114.3 1141.5,1115.8 1143.8,1114.2 C1145.3,1113.1 1146.8,1110.2 1148.3,1108.5 C1150.2,1106.4 1152.1,1104.8 1154.0,1103.3 C1155.9,1101.8 1157.8,1100.0 1159.7,1099.5 C1161.9,1098.9 1164.2,1100.5 1166.5,1101.1 C1168.4,1101.5 1170.2,1101.5 1172.1,1102.4 C1174.0,1103.4 1175.9,1106.0 1177.8,1106.7 C1179.7,1107.5 1181.6,1107.8 1183.5,1106.9 C1185.0,1106.3 1186.5,1105.1 1188.0,1103.3 C1189.5,1101.5 1191.0,1098.1 1192.5,1096.1 C1194.4,1093.5 1196.3,1091.2 1198.2,1090.4 C1200.1,1089.6 1202.0,1090.7 1203.9,1091.5 C1205.8,1092.4 1207.6,1094.4 1209.5,1095.6 C1210.7,1096.3 1211.8,1097.5 1212.9,1097.7 C1214.8,1097.9 1216.7,1095.7 1218.6,1094.3 C1220.5,1092.9 1222.4,1090.7 1224.3,1089.3 C1225.8,1088.1 1227.3,1086.1 1228.8,1086.3 C1230.3,1086.5 1231.8,1088.2 1233.3,1090.4 C1234.8,1092.6 1236.4,1096.1 1237.9,1099.5 C1239.4,1102.9 1240.9,1107.4 1242.4,1110.8 C1243.9,1114.2 1245.4,1117.5 1246.9,1119.9 C1248.8,1122.8 1250.7,1124.6 1252.6,1125.5 C1254.9,1126.6 1257.1,1125.0 1259.4,1124.4 C1261.7,1123.8 1263.9,1123.0 1266.2,1122.1 C1268.5,1121.3 1270.7,1120.0 1273.0,1119.4 C1274.9,1118.9 1276.8,1119.8 1278.7,1118.7 C1280.6,1117.7 1282.4,1114.6 1284.3,1113.1 C1286.2,1111.6 1288.1,1110.4 1290.0,1109.7 C1292.3,1108.8 1294.5,1109.7 1296.8,1109.0 C1298.7,1108.4 1300.6,1109.0 1302.5,1106.3 C1304.0,1104.1 1305.5,1100.0 1307.0,1096.1 C1308.5,1092.1 1310.0,1086.2 1311.5,1082.5 C1313.0,1078.7 1314.6,1075.4 1316.1,1073.4 C1317.6,1071.4 1319.1,1070.6 1320.6,1070.5 C1322.5,1070.3 1324.4,1072.6 1326.3,1074.1 C1328.2,1075.5 1330.0,1077.4 1331.9,1079.1 C1333.8,1080.7 1335.7,1082.1 1337.6,1084.1 C1339.5,1086.1 1341.4,1088.3 1343.3,1091.1 C1345.2,1093.8 1347.0,1097.3 1348.9,1100.6 C1350.8,1103.9 1352.7,1108.5 1354.6,1110.8 C1356.5,1113.1 1358.4,1113.9 1360.3,1114.2 C1362.2,1114.5 1364.0,1113.7 1365.9,1112.6 C1367.8,1111.5 1369.7,1108.9 1371.6,1107.4 C1373.1,1106.2 1374.6,1104.6 1376.1,1104.5 C1378.0,1104.2 1379.9,1106.2 1381.8,1107.4 C1383.7,1108.6 1385.6,1111.4 1387.5,1111.9 C1389.4,1112.5 1391.2,1112.8 1393.1,1110.8 C1394.6,1109.2 1396.2,1105.9 1397.7,1102.9 C1399.2,1099.8 1400.7,1095.6 1402.2,1092.7 C1404.1,1089.0 1406.0,1086.0 1407.9,1083.6 C1410.1,1080.7 1412.4,1077.8 1414.7,1077.5 C1416.6,1077.2 1418.4,1078.8 1420.3,1080.2 C1422.2,1081.6 1424.1,1084.4 1426.0,1085.9 C1427.9,1087.4 1429.8,1089.0 1431.7,1089.3 C1433.2,1089.5 1434.7,1089.0 1436.2,1088.1 C1438.1,1087.1 1440.0,1084.2 1441.9,1082.9 C1443.8,1081.6 1445.6,1080.2 1447.5,1080.2 C1449.8,1080.2 1452.1,1082.8 1454.3,1084.1"/>
<g class="r"><line x1="250.5" y1="108.8" x2="250.5" y2="1250"/><line x1="1043.4" y1="109.5" x2="1043.4" y2="1251"/></g>
<path class="ax" d="M4,1250.5 H661.5 M46,1250.5 V1266.5 M250.5,1250.5 V1266.5 M456,1250.5 V1266.5 M660.5,1249 V1266.5"/>
<path class="ax" d="M796.8,1251.5 H1454.5 M838.6,1251.5 V1267.5 M1043,1251.5 V1267.5 M1248,1251.5 V1267.5 M1453.2,1250 V1267.5"/>
<line x1="1450.7" y1="11.7" x2="1450.7" y2="160.4" stroke="#000" stroke-width="8.6" stroke-linecap="round"/>
<polygon points="339.8,1001.0 340.9,986.2 334.3,986.2 335.4,1001.0" fill="#f00"/><polygon points="336.9,1002.1 351.9,998.3 349.9,992.0 335.5,997.9" fill="#f00"/><polygon points="334.9,999.6 342.9,1012.4 348.3,1008.6 338.5,997.0" fill="#f00"/><polygon points="336.7,997.0 326.9,1008.6 332.3,1012.4 340.3,999.6" fill="#f00"/><polygon points="339.7,997.9 325.3,992.0 323.3,998.3 338.3,1002.1" fill="#f00"/>
<polygon points="1133.5,857.8 1134.6,843.0 1128.0,843.0 1129.1,857.8" fill="#f00"/><polygon points="1130.6,858.9 1145.6,855.1 1143.6,848.8 1129.2,854.7" fill="#f00"/><polygon points="1128.6,856.4 1136.6,869.2 1142.0,865.4 1132.2,853.8" fill="#f00"/><polygon points="1130.4,853.8 1120.6,865.4 1126.0,869.2 1134.0,856.4" fill="#f00"/><polygon points="1133.4,854.7 1119.0,848.8 1117.0,855.1 1132.0,858.9" fill="#f00"/>
<text transform="translate(262.0,47.4) scale(1,1.041)" style="font-size:56.8px;">1 kHz</text>
<text transform="translate(1054.2,47.8) scale(1,1.041)" style="font-size:56.8px;">4 kHz</text>
<text transform="translate(587.0,38.9) scale(1,1.041)" style="font-size:48.0px;font-style:italic">Stimulus level</text>
<text transform="translate(639.5,91.5) scale(1,1.041)" style="font-size:48.0px;font-style:italic">(dB SNR)</text>
<text transform="translate(52.7,71.8) scale(1,1.041)" style="font-size:40.0px;">onset</text>
<text transform="translate(910.4,94.6) scale(1,1.041)" style="font-size:40.0px;">onset</text>
<text transform="translate(518.0,143.3) scale(1,1.041)" style="font-size:40.5px;">offset</text>
<text transform="translate(1228.0,142.7) scale(1,1.041)" style="font-size:40.5px;">offset</text>
<text transform="translate(277.0,164.7) scale(1,1.041)" style="font-size:40.0px;fill:#f00">ACC</text>
<text transform="translate(1070.3,163.0) scale(1,1.041)" style="font-size:40.0px;fill:#f00">ACC</text>
<text transform="translate(1367.5,150.5) scale(1,1.041)" style="font-size:40.0px;font-weight:bold">5</text>
<text transform="translate(1390.5,150.5) scale(1,1.041)" style="font-size:40.0px;font-family:'Liberation Serif',serif">&#956;</text>
<text transform="translate(1412.5,150.5) scale(1,1.041)" style="font-size:40.0px;font-weight:bold">V</text>
<text transform="translate(724.7,187.3) scale(1,1.041)" style="font-size:41.0px;font-weight:bold;font-style:italic" text-anchor="middle">+15</text>
<text transform="translate(724.7,337.0) scale(1,1.041)" style="font-size:41.0px;font-weight:bold;font-style:italic" text-anchor="middle">+12</text>
<text transform="translate(724.7,498.0) scale(1,1.041)" style="font-size:41.0px;font-weight:bold;font-style:italic" text-anchor="middle">+9</text>
<text transform="translate(724.7,657.3) scale(1,1.041)" style="font-size:41.0px;font-weight:bold;font-style:italic" text-anchor="middle">+6</text>
<text transform="translate(724.7,811.5) scale(1,1.041)" style="font-size:41.0px;font-weight:bold;font-style:italic" text-anchor="middle">+3</text>
<text transform="translate(724.7,964.3) scale(1,1.041)" style="font-size:41.0px;font-weight:bold;font-style:italic" text-anchor="middle">0</text>
<text transform="translate(724.7,1126.7) scale(1,1.041)" style="font-size:41.0px;font-weight:bold;font-style:italic" text-anchor="middle">-3</text>
<text transform="translate(1344.3,1217.3) scale(1,1.041)" style="font-size:48.5px;">n = 8</text>
<text transform="translate(46.0,1321.0) scale(1,1.041)" style="font-size:40.0px;" text-anchor="middle">0</text>
<text transform="translate(251.0,1321.0) scale(1,1.041)" style="font-size:40.0px;" text-anchor="middle">500</text>
<text transform="translate(456.0,1321.0) scale(1,1.041)" style="font-size:40.0px;" text-anchor="middle">1000</text>
<text transform="translate(661.0,1321.0) scale(1,1.041)" style="font-size:40.0px;" text-anchor="middle">1500</text>
<text transform="translate(838.0,1322.5) scale(1,1.041)" style="font-size:40.0px;" text-anchor="middle">0</text>
<text transform="translate(1043.0,1322.5) scale(1,1.041)" style="font-size:40.0px;" text-anchor="middle">500</text>
<text transform="translate(1248.0,1322.5) scale(1,1.041)" style="font-size:40.0px;" text-anchor="middle">1000</text>
<text transform="translate(1453.5,1322.5) scale(1,1.041)" style="font-size:40.0px;" text-anchor="middle">1500</text>
<text transform="translate(224.5,1409.9) scale(1,1.041)" style="font-size:48.6px;">Time (ms)</text>
<text transform="translate(1017.2,1411.2) scale(1,1.041)" style="font-size:48.6px;">Time (ms)</text>
</svg>
</body></html>
